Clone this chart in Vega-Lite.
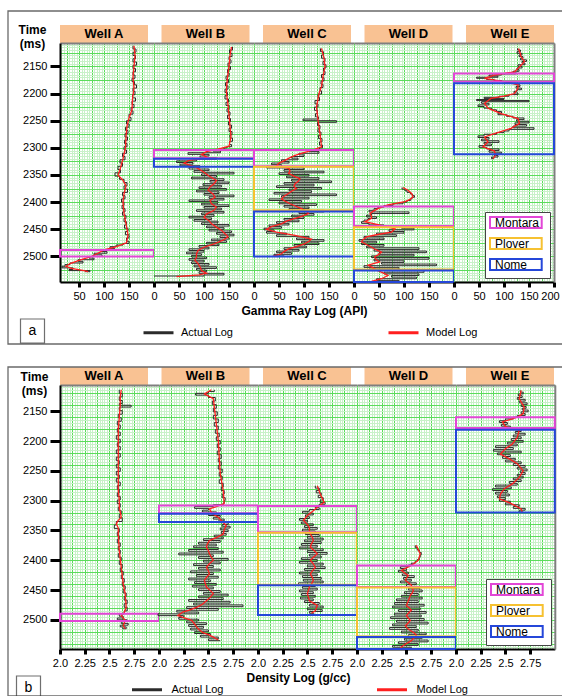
{
"$schema":"https://vega.github.io/schema/vega-lite/v6.json",
"background":"white",
"padding":{"left":7,"top":10,"right":0,"bottom":0},
"autosize":{"type":"pad"},
"config":{
 "view":{"stroke":null},
 "font":"Liberation Sans",
 "axis":{"labelFont":"Liberation Sans","labelFontSize":11,"labelColor":"#000","titleFont":"Liberation Sans","titleFontSize":12,"titleFontWeight":"bold","titleColor":"#000","domainColor":"#000","domainWidth":2,"tickColor":"#000","tickWidth":3,"gridWidth":1,"labelOverlap":false,"labelFlush":false,"labelBound":false},
 "axisX":{"tickSize":5,"labelPadding":3,"titlePadding":4},
 "axisY":{"tickSize":10,"labelPadding":3},
 "legend":{"labelFont":"Liberation Sans","labelColor":"#000","padding":0}
},
"datasets":{
"fa":[{"w":"A","fm":"Montara","top":2488,"base":2500},{"w":"B","fm":"Montara","top":2304,"base":2319},{"w":"B","fm":"Nome","top":2320,"base":2335},{"w":"C","fm":"Montara","top":2304,"base":2334},{"w":"C","fm":"Plover","top":2335,"base":2415},{"w":"C","fm":"Nome","top":2417,"base":2500},{"w":"D","fm":"Montara","top":2408,"base":2444},{"w":"D","fm":"Plover","top":2446,"base":2524},{"w":"D","fm":"Nome","top":2526,"base":2547},{"w":"E","fm":"Montara","top":2163,"base":2178},{"w":"E","fm":"Nome","top":2181,"base":2312}],
"fb":[{"w":"A","fm":"Montara","top":2490,"base":2502},{"w":"B","fm":"Montara","top":2308,"base":2321},{"w":"B","fm":"Nome","top":2322,"base":2336},{"w":"C","fm":"Montara","top":2309,"base":2353},{"w":"C","fm":"Plover","top":2354,"base":2441},{"w":"C","fm":"Nome","top":2442,"base":2492},{"w":"D","fm":"Montara","top":2409,"base":2445},{"w":"D","fm":"Plover","top":2446,"base":2528},{"w":"D","fm":"Nome","top":2529,"base":2549},{"w":"E","fm":"Montara","top":2160,"base":2178},{"w":"E","fm":"Nome","top":2181,"base":2320}],
"gr":[
{"w":"A","log":"Model","t":2112,"v":160},{"w":"A","log":"Model","t":2130,"v":162},{"w":"A","log":"Model","t":2150,"v":160},{"w":"A","log":"Model","t":2170,"v":158},{"w":"A","log":"Model","t":2190,"v":160},{"w":"A","log":"Model","t":2210,"v":157},{"w":"A","log":"Model","t":2230,"v":156},{"w":"A","log":"Model","t":2245,"v":150},{"w":"A","log":"Model","t":2260,"v":146},{"w":"A","log":"Model","t":2280,"v":144},{"w":"A","log":"Model","t":2300,"v":143},{"w":"A","log":"Model","t":2320,"v":138},{"w":"A","log":"Model","t":2340,"v":132},{"w":"A","log":"Model","t":2350,"v":128},{"w":"A","log":"Model","t":2360,"v":138},{"w":"A","log":"Model","t":2370,"v":144},{"w":"A","log":"Model","t":2385,"v":140},{"w":"A","log":"Model","t":2400,"v":138},{"w":"A","log":"Model","t":2420,"v":140},{"w":"A","log":"Model","t":2440,"v":144},{"w":"A","log":"Model","t":2460,"v":148},{"w":"A","log":"Model","t":2475,"v":145},{"w":"A","log":"Model","t":2482,"v":125},{"w":"A","log":"Model","t":2488,"v":100},{"w":"A","log":"Model","t":2494,"v":88},{"w":"A","log":"Model","t":2500,"v":75},{"w":"A","log":"Model","t":2507,"v":50},{"w":"A","log":"Model","t":2513,"v":32},{"w":"A","log":"Model","t":2518,"v":24},{"w":"A","log":"Model","t":2522,"v":35},{"w":"A","log":"Model","t":2526,"v":60},{"w":"A","log":"Model","t":2528,"v":68},
{"w":"A","log":"Actual","t":2112,"v":158},{"w":"A","log":"Actual","t":2118,"v":164},{"w":"A","log":"Actual","t":2124,"v":158},{"w":"A","log":"Actual","t":2130,"v":163},{"w":"A","log":"Actual","t":2136,"v":158},{"w":"A","log":"Actual","t":2142,"v":165},{"w":"A","log":"Actual","t":2148,"v":158},{"w":"A","log":"Actual","t":2154,"v":163},{"w":"A","log":"Actual","t":2160,"v":158},{"w":"A","log":"Actual","t":2166,"v":162},{"w":"A","log":"Actual","t":2172,"v":156},{"w":"A","log":"Actual","t":2178,"v":161},{"w":"A","log":"Actual","t":2184,"v":165},{"w":"A","log":"Actual","t":2190,"v":158},{"w":"A","log":"Actual","t":2196,"v":162},{"w":"A","log":"Actual","t":2202,"v":157},{"w":"A","log":"Actual","t":2208,"v":163},{"w":"A","log":"Actual","t":2214,"v":156},{"w":"A","log":"Actual","t":2220,"v":160},{"w":"A","log":"Actual","t":2226,"v":154},{"w":"A","log":"Actual","t":2232,"v":158},{"w":"A","log":"Actual","t":2238,"v":150},{"w":"A","log":"Actual","t":2244,"v":154},{"w":"A","log":"Actual","t":2250,"v":145},{"w":"A","log":"Actual","t":2256,"v":150},{"w":"A","log":"Actual","t":2262,"v":143},{"w":"A","log":"Actual","t":2268,"v":148},{"w":"A","log":"Actual","t":2274,"v":142},{"w":"A","log":"Actual","t":2280,"v":147},{"w":"A","log":"Actual","t":2286,"v":141},{"w":"A","log":"Actual","t":2292,"v":146},{"w":"A","log":"Actual","t":2298,"v":140},{"w":"A","log":"Actual","t":2304,"v":145},{"w":"A","log":"Actual","t":2310,"v":137},{"w":"A","log":"Actual","t":2316,"v":142},{"w":"A","log":"Actual","t":2322,"v":132},{"w":"A","log":"Actual","t":2328,"v":137},{"w":"A","log":"Actual","t":2334,"v":128},{"w":"A","log":"Actual","t":2340,"v":133},{"w":"A","log":"Actual","t":2346,"v":122},{"w":"A","log":"Actual","t":2352,"v":131},{"w":"A","log":"Actual","t":2358,"v":140},{"w":"A","log":"Actual","t":2364,"v":146},{"w":"A","log":"Actual","t":2370,"v":140},{"w":"A","log":"Actual","t":2376,"v":147},{"w":"A","log":"Actual","t":2382,"v":137},{"w":"A","log":"Actual","t":2388,"v":142},{"w":"A","log":"Actual","t":2394,"v":135},{"w":"A","log":"Actual","t":2400,"v":140},{"w":"A","log":"Actual","t":2406,"v":136},{"w":"A","log":"Actual","t":2412,"v":142},{"w":"A","log":"Actual","t":2418,"v":137},{"w":"A","log":"Actual","t":2424,"v":144},{"w":"A","log":"Actual","t":2430,"v":140},{"w":"A","log":"Actual","t":2436,"v":145},{"w":"A","log":"Actual","t":2442,"v":141},{"w":"A","log":"Actual","t":2448,"v":148},{"w":"A","log":"Actual","t":2454,"v":143},{"w":"A","log":"Actual","t":2460,"v":150},{"w":"A","log":"Actual","t":2466,"v":145},{"w":"A","log":"Actual","t":2472,"v":150},{"w":"A","log":"Actual","t":2476,"v":138},{"w":"A","log":"Actual","t":2479,"v":124},{"w":"A","log":"Actual","t":2482,"v":112},{"w":"A","log":"Actual","t":2485,"v":121},{"w":"A","log":"Actual","t":2488,"v":95},{"w":"A","log":"Actual","t":2491,"v":106},{"w":"A","log":"Actual","t":2494,"v":80},{"w":"A","log":"Actual","t":2497,"v":96},{"w":"A","log":"Actual","t":2500,"v":70},{"w":"A","log":"Actual","t":2503,"v":80},{"w":"A","log":"Actual","t":2506,"v":48},{"w":"A","log":"Actual","t":2509,"v":58},{"w":"A","log":"Actual","t":2512,"v":32},{"w":"A","log":"Actual","t":2515,"v":22},{"w":"A","log":"Actual","t":2518,"v":16},{"w":"A","log":"Actual","t":2521,"v":38},{"w":"A","log":"Actual","t":2524,"v":30},{"w":"A","log":"Actual","t":2526,"v":72},{"w":"A","log":"Actual","t":2528,"v":62},
{"w":"B","log":"Model","t":2114,"v":155},{"w":"B","log":"Model","t":2130,"v":152},{"w":"B","log":"Model","t":2150,"v":150},{"w":"B","log":"Model","t":2170,"v":147},{"w":"B","log":"Model","t":2190,"v":145},{"w":"B","log":"Model","t":2200,"v":145},{"w":"B","log":"Model","t":2220,"v":148},{"w":"B","log":"Model","t":2240,"v":150},{"w":"B","log":"Model","t":2260,"v":152},{"w":"B","log":"Model","t":2280,"v":154},{"w":"B","log":"Model","t":2297,"v":150},{"w":"B","log":"Model","t":2302,"v":130},{"w":"B","log":"Model","t":2307,"v":105},{"w":"B","log":"Model","t":2312,"v":95},{"w":"B","log":"Model","t":2318,"v":108},{"w":"B","log":"Model","t":2323,"v":70},{"w":"B","log":"Model","t":2328,"v":60},{"w":"B","log":"Model","t":2333,"v":75},{"w":"B","log":"Model","t":2338,"v":88},{"w":"B","log":"Model","t":2345,"v":100},{"w":"B","log":"Model","t":2352,"v":110},{"w":"B","log":"Model","t":2360,"v":125},{"w":"B","log":"Model","t":2366,"v":120},{"w":"B","log":"Model","t":2372,"v":112},{"w":"B","log":"Model","t":2378,"v":108},{"w":"B","log":"Model","t":2385,"v":118},{"w":"B","log":"Model","t":2391,"v":122},{"w":"B","log":"Model","t":2397,"v":112},{"w":"B","log":"Model","t":2403,"v":115},{"w":"B","log":"Model","t":2409,"v":125},{"w":"B","log":"Model","t":2415,"v":120},{"w":"B","log":"Model","t":2422,"v":105},{"w":"B","log":"Model","t":2428,"v":100},{"w":"B","log":"Model","t":2434,"v":110},{"w":"B","log":"Model","t":2440,"v":115},{"w":"B","log":"Model","t":2446,"v":125},{"w":"B","log":"Model","t":2452,"v":135},{"w":"B","log":"Model","t":2458,"v":142},{"w":"B","log":"Model","t":2464,"v":148},{"w":"B","log":"Model","t":2470,"v":138},{"w":"B","log":"Model","t":2477,"v":120},{"w":"B","log":"Model","t":2483,"v":100},{"w":"B","log":"Model","t":2489,"v":88},{"w":"B","log":"Model","t":2495,"v":85},{"w":"B","log":"Model","t":2501,"v":85},{"w":"B","log":"Model","t":2507,"v":82},{"w":"B","log":"Model","t":2513,"v":88},{"w":"B","log":"Model","t":2519,"v":92},{"w":"B","log":"Model","t":2526,"v":95},{"w":"B","log":"Model","t":2531,"v":105},{"w":"B","log":"Model","t":2534,"v":90},{"w":"B","log":"Model","t":2537,"v":45},
{"w":"B","log":"Actual","t":2114,"v":157},{"w":"B","log":"Actual","t":2120,"v":151},{"w":"B","log":"Actual","t":2126,"v":156},{"w":"B","log":"Actual","t":2132,"v":150},{"w":"B","log":"Actual","t":2138,"v":154},{"w":"B","log":"Actual","t":2144,"v":148},{"w":"B","log":"Actual","t":2150,"v":153},{"w":"B","log":"Actual","t":2156,"v":147},{"w":"B","log":"Actual","t":2162,"v":150},{"w":"B","log":"Actual","t":2168,"v":144},{"w":"B","log":"Actual","t":2174,"v":149},{"w":"B","log":"Actual","t":2180,"v":143},{"w":"B","log":"Actual","t":2186,"v":148},{"w":"B","log":"Actual","t":2192,"v":142},{"w":"B","log":"Actual","t":2198,"v":147},{"w":"B","log":"Actual","t":2204,"v":142},{"w":"B","log":"Actual","t":2210,"v":149},{"w":"B","log":"Actual","t":2216,"v":144},{"w":"B","log":"Actual","t":2222,"v":150},{"w":"B","log":"Actual","t":2228,"v":146},{"w":"B","log":"Actual","t":2234,"v":152},{"w":"B","log":"Actual","t":2240,"v":147},{"w":"B","log":"Actual","t":2246,"v":153},{"w":"B","log":"Actual","t":2252,"v":149},{"w":"B","log":"Actual","t":2258,"v":155},{"w":"B","log":"Actual","t":2264,"v":150},{"w":"B","log":"Actual","t":2270,"v":156},{"w":"B","log":"Actual","t":2276,"v":152},{"w":"B","log":"Actual","t":2282,"v":157},{"w":"B","log":"Actual","t":2288,"v":151},{"w":"B","log":"Actual","t":2294,"v":155},{"w":"B","log":"Actual","t":2298,"v":146},{"w":"B","log":"Actual","t":2300,"v":140},{"w":"B","log":"Actual","t":2303,"v":118},{"w":"B","log":"Actual","t":2306,"v":133},{"w":"B","log":"Actual","t":2309,"v":68},{"w":"B","log":"Actual","t":2312,"v":110},{"w":"B","log":"Actual","t":2315,"v":92},{"w":"B","log":"Actual","t":2318,"v":125},{"w":"B","log":"Actual","t":2321,"v":85},{"w":"B","log":"Actual","t":2324,"v":45},{"w":"B","log":"Actual","t":2327,"v":78},{"w":"B","log":"Actual","t":2330,"v":52},{"w":"B","log":"Actual","t":2333,"v":92},{"w":"B","log":"Actual","t":2336,"v":70},{"w":"B","log":"Actual","t":2339,"v":110},{"w":"B","log":"Actual","t":2342,"v":80},{"w":"B","log":"Actual","t":2345,"v":160},{"w":"B","log":"Actual","t":2348,"v":95},{"w":"B","log":"Actual","t":2351,"v":125},{"w":"B","log":"Actual","t":2354,"v":75},{"w":"B","log":"Actual","t":2357,"v":140},{"w":"B","log":"Actual","t":2360,"v":112},{"w":"B","log":"Actual","t":2363,"v":150},{"w":"B","log":"Actual","t":2366,"v":98},{"w":"B","log":"Actual","t":2369,"v":135},{"w":"B","log":"Actual","t":2372,"v":90},{"w":"B","log":"Actual","t":2375,"v":145},{"w":"B","log":"Actual","t":2378,"v":85},{"w":"B","log":"Actual","t":2381,"v":130},{"w":"B","log":"Actual","t":2384,"v":100},{"w":"B","log":"Actual","t":2387,"v":160},{"w":"B","log":"Actual","t":2390,"v":110},{"w":"B","log":"Actual","t":2393,"v":140},{"w":"B","log":"Actual","t":2396,"v":70},{"w":"B","log":"Actual","t":2399,"v":128},{"w":"B","log":"Actual","t":2402,"v":95},{"w":"B","log":"Actual","t":2405,"v":150},{"w":"B","log":"Actual","t":2408,"v":100},{"w":"B","log":"Actual","t":2411,"v":135},{"w":"B","log":"Actual","t":2414,"v":85},{"w":"B","log":"Actual","t":2417,"v":140},{"w":"B","log":"Actual","t":2420,"v":95},{"w":"B","log":"Actual","t":2423,"v":120},{"w":"B","log":"Actual","t":2426,"v":70},{"w":"B","log":"Actual","t":2429,"v":115},{"w":"B","log":"Actual","t":2432,"v":80},{"w":"B","log":"Actual","t":2435,"v":128},{"w":"B","log":"Actual","t":2438,"v":95},{"w":"B","log":"Actual","t":2441,"v":150},{"w":"B","log":"Actual","t":2444,"v":105},{"w":"B","log":"Actual","t":2447,"v":140},{"w":"B","log":"Actual","t":2450,"v":110},{"w":"B","log":"Actual","t":2453,"v":155},{"w":"B","log":"Actual","t":2456,"v":125},{"w":"B","log":"Actual","t":2459,"v":160},{"w":"B","log":"Actual","t":2462,"v":132},{"w":"B","log":"Actual","t":2465,"v":150},{"w":"B","log":"Actual","t":2468,"v":115},{"w":"B","log":"Actual","t":2471,"v":145},{"w":"B","log":"Actual","t":2474,"v":105},{"w":"B","log":"Actual","t":2477,"v":130},{"w":"B","log":"Actual","t":2480,"v":90},{"w":"B","log":"Actual","t":2483,"v":110},{"w":"B","log":"Actual","t":2486,"v":70},{"w":"B","log":"Actual","t":2489,"v":100},{"w":"B","log":"Actual","t":2492,"v":65},{"w":"B","log":"Actual","t":2495,"v":95},{"w":"B","log":"Actual","t":2498,"v":75},{"w":"B","log":"Actual","t":2501,"v":105},{"w":"B","log":"Actual","t":2504,"v":70},{"w":"B","log":"Actual","t":2507,"v":100},{"w":"B","log":"Actual","t":2510,"v":75},{"w":"B","log":"Actual","t":2513,"v":110},{"w":"B","log":"Actual","t":2516,"v":80},{"w":"B","log":"Actual","t":2519,"v":125},{"w":"B","log":"Actual","t":2522,"v":85},{"w":"B","log":"Actual","t":2525,"v":105},{"w":"B","log":"Actual","t":2528,"v":90},{"w":"B","log":"Actual","t":2531,"v":140},{"w":"B","log":"Actual","t":2534,"v":100},{"w":"B","log":"Actual","t":2536,"v":0},
{"w":"C","log":"Model","t":2117,"v":135},{"w":"C","log":"Model","t":2135,"v":140},{"w":"C","log":"Model","t":2150,"v":142},{"w":"C","log":"Model","t":2169,"v":138},{"w":"C","log":"Model","t":2187,"v":135},{"w":"C","log":"Model","t":2200,"v":130},{"w":"C","log":"Model","t":2225,"v":125},{"w":"C","log":"Model","t":2249,"v":128},{"w":"C","log":"Model","t":2274,"v":132},{"w":"C","log":"Model","t":2298,"v":135},{"w":"C","log":"Model","t":2304,"v":118},{"w":"C","log":"Model","t":2309,"v":100},{"w":"C","log":"Model","t":2314,"v":82},{"w":"C","log":"Model","t":2319,"v":70},{"w":"C","log":"Model","t":2323,"v":62},{"w":"C","log":"Model","t":2328,"v":50},{"w":"C","log":"Model","t":2333,"v":45},{"w":"C","log":"Model","t":2338,"v":70},{"w":"C","log":"Model","t":2343,"v":72},{"w":"C","log":"Model","t":2347,"v":69},{"w":"C","log":"Model","t":2352,"v":80},{"w":"C","log":"Model","t":2357,"v":92},{"w":"C","log":"Model","t":2362,"v":88},{"w":"C","log":"Model","t":2366,"v":82},{"w":"C","log":"Model","t":2371,"v":80},{"w":"C","log":"Model","t":2375,"v":85},{"w":"C","log":"Model","t":2380,"v":75},{"w":"C","log":"Model","t":2384,"v":69},{"w":"C","log":"Model","t":2389,"v":60},{"w":"C","log":"Model","t":2394,"v":55},{"w":"C","log":"Model","t":2398,"v":62},{"w":"C","log":"Model","t":2403,"v":72},{"w":"C","log":"Model","t":2408,"v":85},{"w":"C","log":"Model","t":2412,"v":95},{"w":"C","log":"Model","t":2417,"v":105},{"w":"C","log":"Model","t":2421,"v":109},{"w":"C","log":"Model","t":2426,"v":95},{"w":"C","log":"Model","t":2430,"v":82},{"w":"C","log":"Model","t":2435,"v":65},{"w":"C","log":"Model","t":2440,"v":55},{"w":"C","log":"Model","t":2445,"v":35},{"w":"C","log":"Model","t":2450,"v":25},{"w":"C","log":"Model","t":2455,"v":45},{"w":"C","log":"Model","t":2461,"v":82},{"w":"C","log":"Model","t":2468,"v":115},{"w":"C","log":"Model","t":2472,"v":110},{"w":"C","log":"Model","t":2477,"v":101},{"w":"C","log":"Model","t":2482,"v":85},{"w":"C","log":"Model","t":2486,"v":69},{"w":"C","log":"Model","t":2491,"v":60},{"w":"C","log":"Model","t":2495,"v":55},{"w":"C","log":"Model","t":2500,"v":38},
{"w":"C","log":"Actual","t":2117,"v":133},{"w":"C","log":"Actual","t":2123,"v":139},{"w":"C","log":"Actual","t":2129,"v":135},{"w":"C","log":"Actual","t":2135,"v":142},{"w":"C","log":"Actual","t":2141,"v":138},{"w":"C","log":"Actual","t":2147,"v":144},{"w":"C","log":"Actual","t":2153,"v":139},{"w":"C","log":"Actual","t":2159,"v":142},{"w":"C","log":"Actual","t":2165,"v":135},{"w":"C","log":"Actual","t":2171,"v":140},{"w":"C","log":"Actual","t":2177,"v":134},{"w":"C","log":"Actual","t":2183,"v":138},{"w":"C","log":"Actual","t":2189,"v":132},{"w":"C","log":"Actual","t":2195,"v":135},{"w":"C","log":"Actual","t":2201,"v":128},{"w":"C","log":"Actual","t":2207,"v":131},{"w":"C","log":"Actual","t":2213,"v":122},{"w":"C","log":"Actual","t":2219,"v":128},{"w":"C","log":"Actual","t":2225,"v":121},{"w":"C","log":"Actual","t":2231,"v":127},{"w":"C","log":"Actual","t":2237,"v":123},{"w":"C","log":"Actual","t":2243,"v":129},{"w":"C","log":"Actual","t":2247,"v":98},{"w":"C","log":"Actual","t":2250,"v":165},{"w":"C","log":"Actual","t":2253,"v":127},{"w":"C","log":"Actual","t":2259,"v":132},{"w":"C","log":"Actual","t":2265,"v":128},{"w":"C","log":"Actual","t":2271,"v":134},{"w":"C","log":"Actual","t":2277,"v":129},{"w":"C","log":"Actual","t":2283,"v":136},{"w":"C","log":"Actual","t":2289,"v":131},{"w":"C","log":"Actual","t":2295,"v":137},{"w":"C","log":"Actual","t":2300,"v":131},{"w":"C","log":"Actual","t":2304,"v":110},{"w":"C","log":"Actual","t":2307,"v":130},{"w":"C","log":"Actual","t":2310,"v":90},{"w":"C","log":"Actual","t":2313,"v":100},{"w":"C","log":"Actual","t":2316,"v":75},{"w":"C","log":"Actual","t":2319,"v":88},{"w":"C","log":"Actual","t":2322,"v":55},{"w":"C","log":"Actual","t":2325,"v":70},{"w":"C","log":"Actual","t":2328,"v":35},{"w":"C","log":"Actual","t":2331,"v":55},{"w":"C","log":"Actual","t":2334,"v":25},{"w":"C","log":"Actual","t":2337,"v":100},{"w":"C","log":"Actual","t":2340,"v":60},{"w":"C","log":"Actual","t":2343,"v":140},{"w":"C","log":"Actual","t":2346,"v":50},{"w":"C","log":"Actual","t":2349,"v":110},{"w":"C","log":"Actual","t":2352,"v":65},{"w":"C","log":"Actual","t":2355,"v":130},{"w":"C","log":"Actual","t":2358,"v":75},{"w":"C","log":"Actual","t":2361,"v":155},{"w":"C","log":"Actual","t":2364,"v":60},{"w":"C","log":"Actual","t":2367,"v":120},{"w":"C","log":"Actual","t":2370,"v":45},{"w":"C","log":"Actual","t":2373,"v":135},{"w":"C","log":"Actual","t":2376,"v":70},{"w":"C","log":"Actual","t":2379,"v":115},{"w":"C","log":"Actual","t":2382,"v":40},{"w":"C","log":"Actual","t":2385,"v":165},{"w":"C","log":"Actual","t":2388,"v":55},{"w":"C","log":"Actual","t":2391,"v":110},{"w":"C","log":"Actual","t":2394,"v":30},{"w":"C","log":"Actual","t":2397,"v":95},{"w":"C","log":"Actual","t":2400,"v":50},{"w":"C","log":"Actual","t":2403,"v":125},{"w":"C","log":"Actual","t":2406,"v":60},{"w":"C","log":"Actual","t":2409,"v":110},{"w":"C","log":"Actual","t":2412,"v":70},{"w":"C","log":"Actual","t":2415,"v":140},{"w":"C","log":"Actual","t":2418,"v":90},{"w":"C","log":"Actual","t":2421,"v":120},{"w":"C","log":"Actual","t":2424,"v":75},{"w":"C","log":"Actual","t":2427,"v":100},{"w":"C","log":"Actual","t":2430,"v":60},{"w":"C","log":"Actual","t":2433,"v":90},{"w":"C","log":"Actual","t":2436,"v":45},{"w":"C","log":"Actual","t":2439,"v":70},{"w":"C","log":"Actual","t":2442,"v":30},{"w":"C","log":"Actual","t":2445,"v":55},{"w":"C","log":"Actual","t":2448,"v":20},{"w":"C","log":"Actual","t":2451,"v":40},{"w":"C","log":"Actual","t":2454,"v":25},{"w":"C","log":"Actual","t":2457,"v":65},{"w":"C","log":"Actual","t":2460,"v":45},{"w":"C","log":"Actual","t":2463,"v":110},{"w":"C","log":"Actual","t":2466,"v":85},{"w":"C","log":"Actual","t":2469,"v":140},{"w":"C","log":"Actual","t":2472,"v":95},{"w":"C","log":"Actual","t":2475,"v":130},{"w":"C","log":"Actual","t":2478,"v":80},{"w":"C","log":"Actual","t":2481,"v":105},{"w":"C","log":"Actual","t":2484,"v":60},{"w":"C","log":"Actual","t":2487,"v":90},{"w":"C","log":"Actual","t":2490,"v":45},{"w":"C","log":"Actual","t":2493,"v":75},{"w":"C","log":"Actual","t":2496,"v":40},{"w":"C","log":"Actual","t":2499,"v":60},{"w":"C","log":"Actual","t":2500,"v":30},
{"w":"D","log":"Model","t":2373,"v":98},{"w":"D","log":"Model","t":2378,"v":108},{"w":"D","log":"Model","t":2384,"v":115},{"w":"D","log":"Model","t":2390,"v":118},{"w":"D","log":"Model","t":2395,"v":112},{"w":"D","log":"Model","t":2399,"v":102},{"w":"D","log":"Model","t":2405,"v":68},{"w":"D","log":"Model","t":2412,"v":48},{"w":"D","log":"Model","t":2417,"v":38},{"w":"D","log":"Model","t":2421,"v":32},{"w":"D","log":"Model","t":2426,"v":35},{"w":"D","log":"Model","t":2430,"v":35},{"w":"D","log":"Model","t":2436,"v":22},{"w":"D","log":"Model","t":2442,"v":50},{"w":"D","log":"Model","t":2449,"v":82},{"w":"D","log":"Model","t":2455,"v":75},{"w":"D","log":"Model","t":2460,"v":45},{"w":"D","log":"Model","t":2464,"v":25},{"w":"D","log":"Model","t":2469,"v":18},{"w":"D","log":"Model","t":2473,"v":15},{"w":"D","log":"Model","t":2478,"v":25},{"w":"D","log":"Model","t":2483,"v":35},{"w":"D","log":"Model","t":2488,"v":45},{"w":"D","log":"Model","t":2492,"v":55},{"w":"D","log":"Model","t":2497,"v":48},{"w":"D","log":"Model","t":2501,"v":41},{"w":"D","log":"Model","t":2506,"v":45},{"w":"D","log":"Model","t":2510,"v":51},{"w":"D","log":"Model","t":2516,"v":28},{"w":"D","log":"Model","t":2521,"v":38},{"w":"D","log":"Model","t":2526,"v":48},{"w":"D","log":"Model","t":2531,"v":60},{"w":"D","log":"Model","t":2535,"v":68},{"w":"D","log":"Model","t":2541,"v":55},{"w":"D","log":"Model","t":2546,"v":35},
{"w":"D","log":"Actual","t":2373,"v":96},{"w":"D","log":"Actual","t":2376,"v":102},{"w":"D","log":"Actual","t":2379,"v":106},{"w":"D","log":"Actual","t":2382,"v":113},{"w":"D","log":"Actual","t":2385,"v":117},{"w":"D","log":"Actual","t":2388,"v":121},{"w":"D","log":"Actual","t":2391,"v":116},{"w":"D","log":"Actual","t":2394,"v":113},{"w":"D","log":"Actual","t":2397,"v":106},{"w":"D","log":"Actual","t":2400,"v":98},{"w":"D","log":"Actual","t":2403,"v":78},{"w":"D","log":"Actual","t":2406,"v":60},{"w":"D","log":"Actual","t":2409,"v":48},{"w":"D","log":"Actual","t":2412,"v":40},{"w":"D","log":"Actual","t":2415,"v":30},{"w":"D","log":"Actual","t":2418,"v":110},{"w":"D","log":"Actual","t":2421,"v":35},{"w":"D","log":"Actual","t":2424,"v":25},{"w":"D","log":"Actual","t":2427,"v":45},{"w":"D","log":"Actual","t":2430,"v":28},{"w":"D","log":"Actual","t":2433,"v":20},{"w":"D","log":"Actual","t":2436,"v":15},{"w":"D","log":"Actual","t":2439,"v":30},{"w":"D","log":"Actual","t":2442,"v":60},{"w":"D","log":"Actual","t":2445,"v":95},{"w":"D","log":"Actual","t":2448,"v":120},{"w":"D","log":"Actual","t":2451,"v":70},{"w":"D","log":"Actual","t":2454,"v":100},{"w":"D","log":"Actual","t":2457,"v":45},{"w":"D","log":"Actual","t":2460,"v":85},{"w":"D","log":"Actual","t":2463,"v":20},{"w":"D","log":"Actual","t":2466,"v":60},{"w":"D","log":"Actual","t":2469,"v":10},{"w":"D","log":"Actual","t":2472,"v":45},{"w":"D","log":"Actual","t":2475,"v":15},{"w":"D","log":"Actual","t":2478,"v":60},{"w":"D","log":"Actual","t":2481,"v":25},{"w":"D","log":"Actual","t":2484,"v":130},{"w":"D","log":"Actual","t":2487,"v":40},{"w":"D","log":"Actual","t":2490,"v":145},{"w":"D","log":"Actual","t":2493,"v":50},{"w":"D","log":"Actual","t":2496,"v":120},{"w":"D","log":"Actual","t":2499,"v":35},{"w":"D","log":"Actual","t":2502,"v":150},{"w":"D","log":"Actual","t":2505,"v":40},{"w":"D","log":"Actual","t":2508,"v":100},{"w":"D","log":"Actual","t":2511,"v":55},{"w":"D","log":"Actual","t":2514,"v":165},{"w":"D","log":"Actual","t":2517,"v":20},{"w":"D","log":"Actual","t":2520,"v":90},{"w":"D","log":"Actual","t":2523,"v":30},{"w":"D","log":"Actual","t":2526,"v":140},{"w":"D","log":"Actual","t":2529,"v":60},{"w":"D","log":"Actual","t":2532,"v":130},{"w":"D","log":"Actual","t":2535,"v":75},{"w":"D","log":"Actual","t":2538,"v":125},{"w":"D","log":"Actual","t":2541,"v":45},{"w":"D","log":"Actual","t":2544,"v":90},{"w":"D","log":"Actual","t":2546,"v":30},
{"w":"E","log":"Model","t":2117,"v":129},{"w":"E","log":"Model","t":2125,"v":132},{"w":"E","log":"Model","t":2132,"v":134},{"w":"E","log":"Model","t":2141,"v":141},{"w":"E","log":"Model","t":2151,"v":131},{"w":"E","log":"Model","t":2160,"v":121},{"w":"E","log":"Model","t":2166,"v":81},{"w":"E","log":"Model","t":2172,"v":61},{"w":"E","log":"Model","t":2178,"v":100},{"w":"E","log":"Model","t":2184,"v":128},{"w":"E","log":"Model","t":2190,"v":128},{"w":"E","log":"Model","t":2200,"v":121},{"w":"E","log":"Model","t":2205,"v":100},{"w":"E","log":"Model","t":2209,"v":74},{"w":"E","log":"Model","t":2218,"v":61},{"w":"E","log":"Model","t":2227,"v":68},{"w":"E","log":"Model","t":2237,"v":94},{"w":"E","log":"Model","t":2246,"v":128},{"w":"E","log":"Model","t":2255,"v":131},{"w":"E","log":"Model","t":2264,"v":114},{"w":"E","log":"Model","t":2274,"v":81},{"w":"E","log":"Model","t":2280,"v":61},{"w":"E","log":"Model","t":2289,"v":68},{"w":"E","log":"Model","t":2298,"v":58},{"w":"E","log":"Model","t":2306,"v":81},{"w":"E","log":"Model","t":2314,"v":83},{"w":"E","log":"Model","t":2320,"v":78},
{"w":"E","log":"Actual","t":2117,"v":127},{"w":"E","log":"Actual","t":2120,"v":133},{"w":"E","log":"Actual","t":2123,"v":126},{"w":"E","log":"Actual","t":2126,"v":136},{"w":"E","log":"Actual","t":2129,"v":130},{"w":"E","log":"Actual","t":2132,"v":138},{"w":"E","log":"Actual","t":2135,"v":133},{"w":"E","log":"Actual","t":2138,"v":145},{"w":"E","log":"Actual","t":2141,"v":136},{"w":"E","log":"Actual","t":2144,"v":142},{"w":"E","log":"Actual","t":2147,"v":128},{"w":"E","log":"Actual","t":2150,"v":136},{"w":"E","log":"Actual","t":2153,"v":126},{"w":"E","log":"Actual","t":2156,"v":130},{"w":"E","log":"Actual","t":2159,"v":118},{"w":"E","log":"Actual","t":2162,"v":125},{"w":"E","log":"Actual","t":2164,"v":95},{"w":"E","log":"Actual","t":2166,"v":70},{"w":"E","log":"Actual","t":2168,"v":88},{"w":"E","log":"Actual","t":2170,"v":45},{"w":"E","log":"Actual","t":2172,"v":65},{"w":"E","log":"Actual","t":2174,"v":80},{"w":"E","log":"Actual","t":2176,"v":95},{"w":"E","log":"Actual","t":2178,"v":110},{"w":"E","log":"Actual","t":2181,"v":125},{"w":"E","log":"Actual","t":2184,"v":132},{"w":"E","log":"Actual","t":2187,"v":124},{"w":"E","log":"Actual","t":2190,"v":135},{"w":"E","log":"Actual","t":2193,"v":126},{"w":"E","log":"Actual","t":2196,"v":120},{"w":"E","log":"Actual","t":2199,"v":128},{"w":"E","log":"Actual","t":2202,"v":110},{"w":"E","log":"Actual","t":2205,"v":90},{"w":"E","log":"Actual","t":2207,"v":60},{"w":"E","log":"Actual","t":2209,"v":100},{"w":"E","log":"Actual","t":2211,"v":45},{"w":"E","log":"Actual","t":2213,"v":150},{"w":"E","log":"Actual","t":2215,"v":55},{"w":"E","log":"Actual","t":2218,"v":70},{"w":"E","log":"Actual","t":2221,"v":48},{"w":"E","log":"Actual","t":2224,"v":60},{"w":"E","log":"Actual","t":2227,"v":75},{"w":"E","log":"Actual","t":2230,"v":85},{"w":"E","log":"Actual","t":2233,"v":95},{"w":"E","log":"Actual","t":2236,"v":88},{"w":"E","log":"Actual","t":2239,"v":105},{"w":"E","log":"Actual","t":2242,"v":118},{"w":"E","log":"Actual","t":2245,"v":140},{"w":"E","log":"Actual","t":2248,"v":125},{"w":"E","log":"Actual","t":2251,"v":150},{"w":"E","log":"Actual","t":2254,"v":122},{"w":"E","log":"Actual","t":2257,"v":145},{"w":"E","log":"Actual","t":2260,"v":118},{"w":"E","log":"Actual","t":2263,"v":160},{"w":"E","log":"Actual","t":2266,"v":110},{"w":"E","log":"Actual","t":2269,"v":100},{"w":"E","log":"Actual","t":2272,"v":85},{"w":"E","log":"Actual","t":2275,"v":60},{"w":"E","log":"Actual","t":2278,"v":48},{"w":"E","log":"Actual","t":2281,"v":70},{"w":"E","log":"Actual","t":2284,"v":55},{"w":"E","log":"Actual","t":2287,"v":90},{"w":"E","log":"Actual","t":2290,"v":60},{"w":"E","log":"Actual","t":2293,"v":75},{"w":"E","log":"Actual","t":2296,"v":50},{"w":"E","log":"Actual","t":2299,"v":65},{"w":"E","log":"Actual","t":2302,"v":90},{"w":"E","log":"Actual","t":2305,"v":70},{"w":"E","log":"Actual","t":2308,"v":95},{"w":"E","log":"Actual","t":2311,"v":80},{"w":"E","log":"Actual","t":2314,"v":88},{"w":"E","log":"Actual","t":2317,"v":75},{"w":"E","log":"Actual","t":2320,"v":80}
],
"den":[
{"w":"A","log":"Model","t":2114,"v":2.62},{"w":"A","log":"Model","t":2125,"v":2.61},{"w":"A","log":"Model","t":2140,"v":2.61},{"w":"A","log":"Model","t":2160,"v":2.6},{"w":"A","log":"Model","t":2180,"v":2.59},{"w":"A","log":"Model","t":2200,"v":2.59},{"w":"A","log":"Model","t":2227,"v":2.59},{"w":"A","log":"Model","t":2255,"v":2.59},{"w":"A","log":"Model","t":2283,"v":2.59},{"w":"A","log":"Model","t":2300,"v":2.6},{"w":"A","log":"Model","t":2311,"v":2.6},{"w":"A","log":"Model","t":2328,"v":2.62},{"w":"A","log":"Model","t":2333,"v":2.59},{"w":"A","log":"Model","t":2339,"v":2.57},{"w":"A","log":"Model","t":2346,"v":2.59},{"w":"A","log":"Model","t":2356,"v":2.59},{"w":"A","log":"Model","t":2384,"v":2.6},{"w":"A","log":"Model","t":2412,"v":2.62},{"w":"A","log":"Model","t":2440,"v":2.64},{"w":"A","log":"Model","t":2456,"v":2.66},{"w":"A","log":"Model","t":2479,"v":2.67},{"w":"A","log":"Model","t":2488,"v":2.65},{"w":"A","log":"Model","t":2493,"v":2.62},{"w":"A","log":"Model","t":2501,"v":2.66},{"w":"A","log":"Model","t":2510,"v":2.64},{"w":"A","log":"Model","t":2515,"v":2.66},
{"w":"A","log":"Actual","t":2114,"v":2.6},{"w":"A","log":"Actual","t":2120,"v":2.63},{"w":"A","log":"Actual","t":2126,"v":2.6},{"w":"A","log":"Actual","t":2132,"v":2.63},{"w":"A","log":"Actual","t":2137,"v":2.6},{"w":"A","log":"Actual","t":2140,"v":2.72},{"w":"A","log":"Actual","t":2143,"v":2.6},{"w":"A","log":"Actual","t":2149,"v":2.63},{"w":"A","log":"Actual","t":2155,"v":2.59},{"w":"A","log":"Actual","t":2161,"v":2.62},{"w":"A","log":"Actual","t":2167,"v":2.58},{"w":"A","log":"Actual","t":2173,"v":2.61},{"w":"A","log":"Actual","t":2179,"v":2.58},{"w":"A","log":"Actual","t":2185,"v":2.61},{"w":"A","log":"Actual","t":2191,"v":2.57},{"w":"A","log":"Actual","t":2197,"v":2.61},{"w":"A","log":"Actual","t":2203,"v":2.58},{"w":"A","log":"Actual","t":2209,"v":2.61},{"w":"A","log":"Actual","t":2215,"v":2.57},{"w":"A","log":"Actual","t":2221,"v":2.61},{"w":"A","log":"Actual","t":2227,"v":2.57},{"w":"A","log":"Actual","t":2233,"v":2.6},{"w":"A","log":"Actual","t":2239,"v":2.57},{"w":"A","log":"Actual","t":2245,"v":2.61},{"w":"A","log":"Actual","t":2251,"v":2.57},{"w":"A","log":"Actual","t":2257,"v":2.6},{"w":"A","log":"Actual","t":2263,"v":2.57},{"w":"A","log":"Actual","t":2269,"v":2.61},{"w":"A","log":"Actual","t":2275,"v":2.58},{"w":"A","log":"Actual","t":2281,"v":2.6},{"w":"A","log":"Actual","t":2287,"v":2.58},{"w":"A","log":"Actual","t":2293,"v":2.61},{"w":"A","log":"Actual","t":2299,"v":2.58},{"w":"A","log":"Actual","t":2305,"v":2.61},{"w":"A","log":"Actual","t":2311,"v":2.59},{"w":"A","log":"Actual","t":2317,"v":2.62},{"w":"A","log":"Actual","t":2323,"v":2.6},{"w":"A","log":"Actual","t":2329,"v":2.63},{"w":"A","log":"Actual","t":2335,"v":2.57},{"w":"A","log":"Actual","t":2341,"v":2.55},{"w":"A","log":"Actual","t":2347,"v":2.6},{"w":"A","log":"Actual","t":2353,"v":2.58},{"w":"A","log":"Actual","t":2359,"v":2.6},{"w":"A","log":"Actual","t":2365,"v":2.58},{"w":"A","log":"Actual","t":2371,"v":2.61},{"w":"A","log":"Actual","t":2377,"v":2.59},{"w":"A","log":"Actual","t":2383,"v":2.61},{"w":"A","log":"Actual","t":2389,"v":2.59},{"w":"A","log":"Actual","t":2395,"v":2.62},{"w":"A","log":"Actual","t":2401,"v":2.6},{"w":"A","log":"Actual","t":2407,"v":2.63},{"w":"A","log":"Actual","t":2413,"v":2.61},{"w":"A","log":"Actual","t":2419,"v":2.64},{"w":"A","log":"Actual","t":2425,"v":2.62},{"w":"A","log":"Actual","t":2431,"v":2.65},{"w":"A","log":"Actual","t":2437,"v":2.63},{"w":"A","log":"Actual","t":2443,"v":2.66},{"w":"A","log":"Actual","t":2449,"v":2.64},{"w":"A","log":"Actual","t":2455,"v":2.67},{"w":"A","log":"Actual","t":2461,"v":2.65},{"w":"A","log":"Actual","t":2467,"v":2.68},{"w":"A","log":"Actual","t":2473,"v":2.65},{"w":"A","log":"Actual","t":2479,"v":2.68},{"w":"A","log":"Actual","t":2485,"v":2.65},{"w":"A","log":"Actual","t":2490,"v":2.6},{"w":"A","log":"Actual","t":2494,"v":2.64},{"w":"A","log":"Actual","t":2497,"v":2.58},{"w":"A","log":"Actual","t":2500,"v":2.68},{"w":"A","log":"Actual","t":2503,"v":2.62},{"w":"A","log":"Actual","t":2506,"v":2.69},{"w":"A","log":"Actual","t":2509,"v":2.61},{"w":"A","log":"Actual","t":2512,"v":2.67},{"w":"A","log":"Actual","t":2515,"v":2.63},
{"w":"B","log":"Model","t":2114,"v":2.53},{"w":"B","log":"Model","t":2121,"v":2.46},{"w":"B","log":"Model","t":2129,"v":2.55},{"w":"B","log":"Model","t":2143,"v":2.56},{"w":"B","log":"Model","t":2171,"v":2.58},{"w":"B","log":"Model","t":2199,"v":2.6},{"w":"B","log":"Model","t":2227,"v":2.61},{"w":"B","log":"Model","t":2255,"v":2.62},{"w":"B","log":"Model","t":2283,"v":2.65},{"w":"B","log":"Model","t":2305,"v":2.66},{"w":"B","log":"Model","t":2310,"v":2.58},{"w":"B","log":"Model","t":2314,"v":2.51},{"w":"B","log":"Model","t":2322,"v":2.54},{"w":"B","log":"Model","t":2328,"v":2.6},{"w":"B","log":"Model","t":2335,"v":2.64},{"w":"B","log":"Model","t":2342,"v":2.68},{"w":"B","log":"Model","t":2349,"v":2.66},{"w":"B","log":"Model","t":2356,"v":2.65},{"w":"B","log":"Model","t":2362,"v":2.58},{"w":"B","log":"Model","t":2367,"v":2.51},{"w":"B","log":"Model","t":2373,"v":2.49},{"w":"B","log":"Model","t":2378,"v":2.48},{"w":"B","log":"Model","t":2384,"v":2.5},{"w":"B","log":"Model","t":2389,"v":2.51},{"w":"B","log":"Model","t":2395,"v":2.53},{"w":"B","log":"Model","t":2400,"v":2.55},{"w":"B","log":"Model","t":2406,"v":2.51},{"w":"B","log":"Model","t":2412,"v":2.48},{"w":"B","log":"Model","t":2418,"v":2.5},{"w":"B","log":"Model","t":2423,"v":2.51},{"w":"B","log":"Model","t":2429,"v":2.48},{"w":"B","log":"Model","t":2434,"v":2.46},{"w":"B","log":"Model","t":2440,"v":2.47},{"w":"B","log":"Model","t":2445,"v":2.48},{"w":"B","log":"Model","t":2451,"v":2.52},{"w":"B","log":"Model","t":2456,"v":2.55},{"w":"B","log":"Model","t":2462,"v":2.52},{"w":"B","log":"Model","t":2468,"v":2.48},{"w":"B","log":"Model","t":2474,"v":2.44},{"w":"B","log":"Model","t":2479,"v":2.38},{"w":"B","log":"Model","t":2484,"v":2.3},{"w":"B","log":"Model","t":2487,"v":2.24},{"w":"B","log":"Model","t":2493,"v":2.19},{"w":"B","log":"Model","t":2501,"v":2.33},{"w":"B","log":"Model","t":2507,"v":2.36},{"w":"B","log":"Model","t":2512,"v":2.38},{"w":"B","log":"Model","t":2517,"v":2.41},{"w":"B","log":"Model","t":2521,"v":2.44},{"w":"B","log":"Model","t":2525,"v":2.5},{"w":"B","log":"Model","t":2529,"v":2.55},{"w":"B","log":"Model","t":2534,"v":2.6},
{"w":"B","log":"Actual","t":2114,"v":2.56},{"w":"B","log":"Actual","t":2117,"v":2.5},{"w":"B","log":"Actual","t":2120,"v":2.37},{"w":"B","log":"Actual","t":2123,"v":2.5},{"w":"B","log":"Actual","t":2127,"v":2.57},{"w":"B","log":"Actual","t":2133,"v":2.54},{"w":"B","log":"Actual","t":2139,"v":2.58},{"w":"B","log":"Actual","t":2145,"v":2.55},{"w":"B","log":"Actual","t":2151,"v":2.59},{"w":"B","log":"Actual","t":2157,"v":2.55},{"w":"B","log":"Actual","t":2163,"v":2.6},{"w":"B","log":"Actual","t":2169,"v":2.56},{"w":"B","log":"Actual","t":2175,"v":2.6},{"w":"B","log":"Actual","t":2181,"v":2.57},{"w":"B","log":"Actual","t":2187,"v":2.61},{"w":"B","log":"Actual","t":2193,"v":2.58},{"w":"B","log":"Actual","t":2199,"v":2.62},{"w":"B","log":"Actual","t":2205,"v":2.59},{"w":"B","log":"Actual","t":2211,"v":2.62},{"w":"B","log":"Actual","t":2217,"v":2.59},{"w":"B","log":"Actual","t":2223,"v":2.63},{"w":"B","log":"Actual","t":2229,"v":2.6},{"w":"B","log":"Actual","t":2235,"v":2.63},{"w":"B","log":"Actual","t":2241,"v":2.6},{"w":"B","log":"Actual","t":2247,"v":2.64},{"w":"B","log":"Actual","t":2253,"v":2.61},{"w":"B","log":"Actual","t":2259,"v":2.64},{"w":"B","log":"Actual","t":2265,"v":2.61},{"w":"B","log":"Actual","t":2271,"v":2.65},{"w":"B","log":"Actual","t":2277,"v":2.63},{"w":"B","log":"Actual","t":2283,"v":2.66},{"w":"B","log":"Actual","t":2289,"v":2.64},{"w":"B","log":"Actual","t":2295,"v":2.67},{"w":"B","log":"Actual","t":2300,"v":2.66},{"w":"B","log":"Actual","t":2304,"v":2.65},{"w":"B","log":"Actual","t":2307,"v":2.55},{"w":"B","log":"Actual","t":2310,"v":2.36},{"w":"B","log":"Actual","t":2313,"v":2.5},{"w":"B","log":"Actual","t":2316,"v":2.44},{"w":"B","log":"Actual","t":2319,"v":2.58},{"w":"B","log":"Actual","t":2322,"v":2.5},{"w":"B","log":"Actual","t":2325,"v":2.62},{"w":"B","log":"Actual","t":2328,"v":2.55},{"w":"B","log":"Actual","t":2331,"v":2.66},{"w":"B","log":"Actual","t":2334,"v":2.6},{"w":"B","log":"Actual","t":2337,"v":2.7},{"w":"B","log":"Actual","t":2340,"v":2.64},{"w":"B","log":"Actual","t":2343,"v":2.72},{"w":"B","log":"Actual","t":2346,"v":2.62},{"w":"B","log":"Actual","t":2349,"v":2.7},{"w":"B","log":"Actual","t":2352,"v":2.63},{"w":"B","log":"Actual","t":2355,"v":2.68},{"w":"B","log":"Actual","t":2358,"v":2.56},{"w":"B","log":"Actual","t":2361,"v":2.65},{"w":"B","log":"Actual","t":2364,"v":2.45},{"w":"B","log":"Actual","t":2367,"v":2.62},{"w":"B","log":"Actual","t":2370,"v":2.4},{"w":"B","log":"Actual","t":2373,"v":2.58},{"w":"B","log":"Actual","t":2376,"v":2.35},{"w":"B","log":"Actual","t":2379,"v":2.6},{"w":"B","log":"Actual","t":2382,"v":2.3},{"w":"B","log":"Actual","t":2385,"v":2.65},{"w":"B","log":"Actual","t":2388,"v":2.2},{"w":"B","log":"Actual","t":2391,"v":2.55},{"w":"B","log":"Actual","t":2394,"v":2.4},{"w":"B","log":"Actual","t":2397,"v":2.7},{"w":"B","log":"Actual","t":2400,"v":2.45},{"w":"B","log":"Actual","t":2403,"v":2.62},{"w":"B","log":"Actual","t":2406,"v":2.35},{"w":"B","log":"Actual","t":2409,"v":2.55},{"w":"B","log":"Actual","t":2412,"v":2.4},{"w":"B","log":"Actual","t":2415,"v":2.62},{"w":"B","log":"Actual","t":2418,"v":2.32},{"w":"B","log":"Actual","t":2421,"v":2.55},{"w":"B","log":"Actual","t":2424,"v":2.38},{"w":"B","log":"Actual","t":2427,"v":2.6},{"w":"B","log":"Actual","t":2430,"v":2.3},{"w":"B","log":"Actual","t":2433,"v":2.52},{"w":"B","log":"Actual","t":2436,"v":2.36},{"w":"B","log":"Actual","t":2439,"v":2.58},{"w":"B","log":"Actual","t":2442,"v":2.34},{"w":"B","log":"Actual","t":2445,"v":2.55},{"w":"B","log":"Actual","t":2448,"v":2.4},{"w":"B","log":"Actual","t":2451,"v":2.62},{"w":"B","log":"Actual","t":2454,"v":2.45},{"w":"B","log":"Actual","t":2457,"v":2.7},{"w":"B","log":"Actual","t":2460,"v":2.4},{"w":"B","log":"Actual","t":2463,"v":2.65},{"w":"B","log":"Actual","t":2466,"v":2.3},{"w":"B","log":"Actual","t":2469,"v":2.72},{"w":"B","log":"Actual","t":2472,"v":2.35},{"w":"B","log":"Actual","t":2475,"v":2.85},{"w":"B","log":"Actual","t":2478,"v":2.28},{"w":"B","log":"Actual","t":2481,"v":2.6},{"w":"B","log":"Actual","t":2484,"v":2.18},{"w":"B","log":"Actual","t":2487,"v":2.4},{"w":"B","log":"Actual","t":2490,"v":1.99},{"w":"B","log":"Actual","t":2493,"v":2.25},{"w":"B","log":"Actual","t":2496,"v":2.2},{"w":"B","log":"Actual","t":2499,"v":2.4},{"w":"B","log":"Actual","t":2502,"v":2.28},{"w":"B","log":"Actual","t":2505,"v":2.48},{"w":"B","log":"Actual","t":2508,"v":2.3},{"w":"B","log":"Actual","t":2511,"v":2.45},{"w":"B","log":"Actual","t":2514,"v":2.32},{"w":"B","log":"Actual","t":2517,"v":2.5},{"w":"B","log":"Actual","t":2520,"v":2.36},{"w":"B","log":"Actual","t":2523,"v":2.52},{"w":"B","log":"Actual","t":2526,"v":2.42},{"w":"B","log":"Actual","t":2529,"v":2.6},{"w":"B","log":"Actual","t":2532,"v":2.5},{"w":"B","log":"Actual","t":2535,"v":2.62},
{"w":"C","log":"Model","t":2275,"v":2.6},{"w":"C","log":"Model","t":2289,"v":2.63},{"w":"C","log":"Model","t":2303,"v":2.67},{"w":"C","log":"Model","t":2311,"v":2.6},{"w":"C","log":"Model","t":2317,"v":2.56},{"w":"C","log":"Model","t":2325,"v":2.5},{"w":"C","log":"Model","t":2333,"v":2.46},{"w":"C","log":"Model","t":2340,"v":2.5},{"w":"C","log":"Model","t":2345,"v":2.52},{"w":"C","log":"Model","t":2351,"v":2.52},{"w":"C","log":"Model","t":2356,"v":2.53},{"w":"C","log":"Model","t":2362,"v":2.55},{"w":"C","log":"Model","t":2367,"v":2.56},{"w":"C","log":"Model","t":2373,"v":2.54},{"w":"C","log":"Model","t":2378,"v":2.53},{"w":"C","log":"Model","t":2384,"v":2.57},{"w":"C","log":"Model","t":2389,"v":2.6},{"w":"C","log":"Model","t":2395,"v":2.56},{"w":"C","log":"Model","t":2400,"v":2.53},{"w":"C","log":"Model","t":2406,"v":2.56},{"w":"C","log":"Model","t":2412,"v":2.58},{"w":"C","log":"Model","t":2418,"v":2.55},{"w":"C","log":"Model","t":2423,"v":2.53},{"w":"C","log":"Model","t":2429,"v":2.55},{"w":"C","log":"Model","t":2434,"v":2.56},{"w":"C","log":"Model","t":2440,"v":2.54},{"w":"C","log":"Model","t":2445,"v":2.52},{"w":"C","log":"Model","t":2451,"v":2.51},{"w":"C","log":"Model","t":2456,"v":2.5},{"w":"C","log":"Model","t":2462,"v":2.51},{"w":"C","log":"Model","t":2468,"v":2.52},{"w":"C","log":"Model","t":2472,"v":2.56},{"w":"C","log":"Model","t":2476,"v":2.6},{"w":"C","log":"Model","t":2480,"v":2.59},{"w":"C","log":"Model","t":2485,"v":2.58},{"w":"C","log":"Model","t":2489,"v":2.54},
{"w":"C","log":"Actual","t":2275,"v":2.58},{"w":"C","log":"Actual","t":2279,"v":2.62},{"w":"C","log":"Actual","t":2283,"v":2.59},{"w":"C","log":"Actual","t":2287,"v":2.64},{"w":"C","log":"Actual","t":2291,"v":2.61},{"w":"C","log":"Actual","t":2295,"v":2.66},{"w":"C","log":"Actual","t":2299,"v":2.63},{"w":"C","log":"Actual","t":2303,"v":2.68},{"w":"C","log":"Actual","t":2306,"v":2.62},{"w":"C","log":"Actual","t":2309,"v":2.58},{"w":"C","log":"Actual","t":2312,"v":2.62},{"w":"C","log":"Actual","t":2315,"v":2.52},{"w":"C","log":"Actual","t":2318,"v":2.45},{"w":"C","log":"Actual","t":2321,"v":2.56},{"w":"C","log":"Actual","t":2324,"v":2.48},{"w":"C","log":"Actual","t":2327,"v":2.52},{"w":"C","log":"Actual","t":2330,"v":2.42},{"w":"C","log":"Actual","t":2333,"v":2.5},{"w":"C","log":"Actual","t":2336,"v":2.44},{"w":"C","log":"Actual","t":2339,"v":2.56},{"w":"C","log":"Actual","t":2342,"v":2.47},{"w":"C","log":"Actual","t":2345,"v":2.6},{"w":"C","log":"Actual","t":2348,"v":2.45},{"w":"C","log":"Actual","t":2351,"v":2.58},{"w":"C","log":"Actual","t":2354,"v":2.48},{"w":"C","log":"Actual","t":2357,"v":2.62},{"w":"C","log":"Actual","t":2360,"v":2.5},{"w":"C","log":"Actual","t":2363,"v":2.66},{"w":"C","log":"Actual","t":2366,"v":2.47},{"w":"C","log":"Actual","t":2369,"v":2.64},{"w":"C","log":"Actual","t":2372,"v":2.44},{"w":"C","log":"Actual","t":2375,"v":2.6},{"w":"C","log":"Actual","t":2378,"v":2.42},{"w":"C","log":"Actual","t":2381,"v":2.66},{"w":"C","log":"Actual","t":2384,"v":2.5},{"w":"C","log":"Actual","t":2387,"v":2.7},{"w":"C","log":"Actual","t":2390,"v":2.52},{"w":"C","log":"Actual","t":2393,"v":2.64},{"w":"C","log":"Actual","t":2396,"v":2.44},{"w":"C","log":"Actual","t":2399,"v":2.6},{"w":"C","log":"Actual","t":2402,"v":2.42},{"w":"C","log":"Actual","t":2405,"v":2.66},{"w":"C","log":"Actual","t":2408,"v":2.5},{"w":"C","log":"Actual","t":2411,"v":2.68},{"w":"C","log":"Actual","t":2414,"v":2.47},{"w":"C","log":"Actual","t":2417,"v":2.62},{"w":"C","log":"Actual","t":2420,"v":2.42},{"w":"C","log":"Actual","t":2423,"v":2.6},{"w":"C","log":"Actual","t":2426,"v":2.45},{"w":"C","log":"Actual","t":2429,"v":2.64},{"w":"C","log":"Actual","t":2432,"v":2.46},{"w":"C","log":"Actual","t":2435,"v":2.66},{"w":"C","log":"Actual","t":2438,"v":2.41},{"w":"C","log":"Actual","t":2441,"v":2.58},{"w":"C","log":"Actual","t":2444,"v":2.45},{"w":"C","log":"Actual","t":2447,"v":2.6},{"w":"C","log":"Actual","t":2450,"v":2.42},{"w":"C","log":"Actual","t":2453,"v":2.56},{"w":"C","log":"Actual","t":2456,"v":2.44},{"w":"C","log":"Actual","t":2459,"v":2.58},{"w":"C","log":"Actual","t":2462,"v":2.43},{"w":"C","log":"Actual","t":2465,"v":2.56},{"w":"C","log":"Actual","t":2468,"v":2.47},{"w":"C","log":"Actual","t":2471,"v":2.62},{"w":"C","log":"Actual","t":2474,"v":2.52},{"w":"C","log":"Actual","t":2477,"v":2.66},{"w":"C","log":"Actual","t":2480,"v":2.5},{"w":"C","log":"Actual","t":2483,"v":2.65},{"w":"C","log":"Actual","t":2486,"v":2.52},{"w":"C","log":"Actual","t":2489,"v":2.57},
{"w":"D","log":"Model","t":2375,"v":2.6},{"w":"D","log":"Model","t":2382,"v":2.62},{"w":"D","log":"Model","t":2389,"v":2.64},{"w":"D","log":"Model","t":2395,"v":2.63},{"w":"D","log":"Model","t":2400,"v":2.62},{"w":"D","log":"Model","t":2405,"v":2.58},{"w":"D","log":"Model","t":2409,"v":2.55},{"w":"D","log":"Model","t":2413,"v":2.5},{"w":"D","log":"Model","t":2417,"v":2.45},{"w":"D","log":"Model","t":2421,"v":2.48},{"w":"D","log":"Model","t":2426,"v":2.52},{"w":"D","log":"Model","t":2430,"v":2.5},{"w":"D","log":"Model","t":2434,"v":2.49},{"w":"D","log":"Model","t":2438,"v":2.52},{"w":"D","log":"Model","t":2442,"v":2.55},{"w":"D","log":"Model","t":2447,"v":2.56},{"w":"D","log":"Model","t":2451,"v":2.57},{"w":"D","log":"Model","t":2455,"v":2.56},{"w":"D","log":"Model","t":2459,"v":2.54},{"w":"D","log":"Model","t":2464,"v":2.53},{"w":"D","log":"Model","t":2468,"v":2.52},{"w":"D","log":"Model","t":2472,"v":2.51},{"w":"D","log":"Model","t":2476,"v":2.5},{"w":"D","log":"Model","t":2480,"v":2.53},{"w":"D","log":"Model","t":2484,"v":2.55},{"w":"D","log":"Model","t":2489,"v":2.52},{"w":"D","log":"Model","t":2493,"v":2.5},{"w":"D","log":"Model","t":2497,"v":2.52},{"w":"D","log":"Model","t":2501,"v":2.54},{"w":"D","log":"Model","t":2505,"v":2.52},{"w":"D","log":"Model","t":2510,"v":2.49},{"w":"D","log":"Model","t":2514,"v":2.51},{"w":"D","log":"Model","t":2518,"v":2.54},{"w":"D","log":"Model","t":2522,"v":2.58},{"w":"D","log":"Model","t":2526,"v":2.6},{"w":"D","log":"Model","t":2530,"v":2.58},{"w":"D","log":"Model","t":2535,"v":2.55},{"w":"D","log":"Model","t":2539,"v":2.51},{"w":"D","log":"Model","t":2543,"v":2.47},{"w":"D","log":"Model","t":2547,"v":2.44},
{"w":"D","log":"Actual","t":2375,"v":2.59},{"w":"D","log":"Actual","t":2379,"v":2.61},{"w":"D","log":"Actual","t":2383,"v":2.63},{"w":"D","log":"Actual","t":2387,"v":2.65},{"w":"D","log":"Actual","t":2391,"v":2.64},{"w":"D","log":"Actual","t":2395,"v":2.63},{"w":"D","log":"Actual","t":2399,"v":2.61},{"w":"D","log":"Actual","t":2402,"v":2.59},{"w":"D","log":"Actual","t":2405,"v":2.55},{"w":"D","log":"Actual","t":2408,"v":2.52},{"w":"D","log":"Actual","t":2411,"v":2.44},{"w":"D","log":"Actual","t":2414,"v":2.5},{"w":"D","log":"Actual","t":2417,"v":2.42},{"w":"D","log":"Actual","t":2420,"v":2.52},{"w":"D","log":"Actual","t":2423,"v":2.46},{"w":"D","log":"Actual","t":2426,"v":2.58},{"w":"D","log":"Actual","t":2429,"v":2.47},{"w":"D","log":"Actual","t":2432,"v":2.55},{"w":"D","log":"Actual","t":2435,"v":2.44},{"w":"D","log":"Actual","t":2438,"v":2.6},{"w":"D","log":"Actual","t":2441,"v":2.5},{"w":"D","log":"Actual","t":2444,"v":2.64},{"w":"D","log":"Actual","t":2447,"v":2.52},{"w":"D","log":"Actual","t":2450,"v":2.66},{"w":"D","log":"Actual","t":2453,"v":2.48},{"w":"D","log":"Actual","t":2456,"v":2.62},{"w":"D","log":"Actual","t":2459,"v":2.45},{"w":"D","log":"Actual","t":2462,"v":2.66},{"w":"D","log":"Actual","t":2465,"v":2.4},{"w":"D","log":"Actual","t":2468,"v":2.62},{"w":"D","log":"Actual","t":2471,"v":2.38},{"w":"D","log":"Actual","t":2474,"v":2.68},{"w":"D","log":"Actual","t":2477,"v":2.36},{"w":"D","log":"Actual","t":2480,"v":2.64},{"w":"D","log":"Actual","t":2483,"v":2.42},{"w":"D","log":"Actual","t":2486,"v":2.7},{"w":"D","log":"Actual","t":2489,"v":2.38},{"w":"D","log":"Actual","t":2492,"v":2.65},{"w":"D","log":"Actual","t":2495,"v":2.34},{"w":"D","log":"Actual","t":2498,"v":2.68},{"w":"D","log":"Actual","t":2501,"v":2.4},{"w":"D","log":"Actual","t":2504,"v":2.72},{"w":"D","log":"Actual","t":2507,"v":2.36},{"w":"D","log":"Actual","t":2510,"v":2.6},{"w":"D","log":"Actual","t":2513,"v":2.33},{"w":"D","log":"Actual","t":2516,"v":2.62},{"w":"D","log":"Actual","t":2519,"v":2.45},{"w":"D","log":"Actual","t":2522,"v":2.7},{"w":"D","log":"Actual","t":2525,"v":2.52},{"w":"D","log":"Actual","t":2528,"v":2.66},{"w":"D","log":"Actual","t":2531,"v":2.48},{"w":"D","log":"Actual","t":2534,"v":2.72},{"w":"D","log":"Actual","t":2537,"v":2.42},{"w":"D","log":"Actual","t":2540,"v":2.62},{"w":"D","log":"Actual","t":2543,"v":2.36},{"w":"D","log":"Actual","t":2546,"v":2.55},{"w":"D","log":"Actual","t":2548,"v":2.4},
{"w":"E","log":"Model","t":2115,"v":2.66},{"w":"E","log":"Model","t":2129,"v":2.64},{"w":"E","log":"Model","t":2143,"v":2.69},{"w":"E","log":"Model","t":2154,"v":2.68},{"w":"E","log":"Model","t":2159,"v":2.63},{"w":"E","log":"Model","t":2163,"v":2.57},{"w":"E","log":"Model","t":2168,"v":2.47},{"w":"E","log":"Model","t":2176,"v":2.5},{"w":"E","log":"Model","t":2182,"v":2.64},{"w":"E","log":"Model","t":2194,"v":2.62},{"w":"E","log":"Model","t":2205,"v":2.57},{"w":"E","log":"Model","t":2213,"v":2.5},{"w":"E","log":"Model","t":2222,"v":2.45},{"w":"E","log":"Model","t":2230,"v":2.54},{"w":"E","log":"Model","t":2238,"v":2.62},{"w":"E","log":"Model","t":2250,"v":2.68},{"w":"E","log":"Model","t":2261,"v":2.64},{"w":"E","log":"Model","t":2272,"v":2.57},{"w":"E","log":"Model","t":2280,"v":2.49},{"w":"E","log":"Model","t":2289,"v":2.45},{"w":"E","log":"Model","t":2297,"v":2.44},{"w":"E","log":"Model","t":2305,"v":2.56},{"w":"E","log":"Model","t":2314,"v":2.66},{"w":"E","log":"Model","t":2319,"v":2.67},
{"w":"E","log":"Actual","t":2115,"v":2.65},{"w":"E","log":"Actual","t":2118,"v":2.68},{"w":"E","log":"Actual","t":2121,"v":2.63},{"w":"E","log":"Actual","t":2124,"v":2.67},{"w":"E","log":"Actual","t":2127,"v":2.62},{"w":"E","log":"Actual","t":2130,"v":2.7},{"w":"E","log":"Actual","t":2133,"v":2.64},{"w":"E","log":"Actual","t":2136,"v":2.72},{"w":"E","log":"Actual","t":2139,"v":2.66},{"w":"E","log":"Actual","t":2142,"v":2.71},{"w":"E","log":"Actual","t":2145,"v":2.67},{"w":"E","log":"Actual","t":2148,"v":2.73},{"w":"E","log":"Actual","t":2151,"v":2.66},{"w":"E","log":"Actual","t":2154,"v":2.7},{"w":"E","log":"Actual","t":2157,"v":2.62},{"w":"E","log":"Actual","t":2160,"v":2.58},{"w":"E","log":"Actual","t":2163,"v":2.5},{"w":"E","log":"Actual","t":2166,"v":2.44},{"w":"E","log":"Actual","t":2169,"v":2.52},{"w":"E","log":"Actual","t":2172,"v":2.46},{"w":"E","log":"Actual","t":2175,"v":2.55},{"w":"E","log":"Actual","t":2178,"v":2.6},{"w":"E","log":"Actual","t":2181,"v":2.66},{"w":"E","log":"Actual","t":2184,"v":2.6},{"w":"E","log":"Actual","t":2187,"v":2.7},{"w":"E","log":"Actual","t":2190,"v":2.58},{"w":"E","log":"Actual","t":2193,"v":2.66},{"w":"E","log":"Actual","t":2196,"v":2.56},{"w":"E","log":"Actual","t":2199,"v":2.68},{"w":"E","log":"Actual","t":2202,"v":2.52},{"w":"E","log":"Actual","t":2205,"v":2.62},{"w":"E","log":"Actual","t":2208,"v":2.4},{"w":"E","log":"Actual","t":2211,"v":2.58},{"w":"E","log":"Actual","t":2214,"v":2.38},{"w":"E","log":"Actual","t":2217,"v":2.66},{"w":"E","log":"Actual","t":2220,"v":2.42},{"w":"E","log":"Actual","t":2223,"v":2.55},{"w":"E","log":"Actual","t":2226,"v":2.47},{"w":"E","log":"Actual","t":2229,"v":2.6},{"w":"E","log":"Actual","t":2232,"v":2.5},{"w":"E","log":"Actual","t":2235,"v":2.66},{"w":"E","log":"Actual","t":2238,"v":2.58},{"w":"E","log":"Actual","t":2241,"v":2.7},{"w":"E","log":"Actual","t":2244,"v":2.62},{"w":"E","log":"Actual","t":2247,"v":2.72},{"w":"E","log":"Actual","t":2250,"v":2.65},{"w":"E","log":"Actual","t":2253,"v":2.7},{"w":"E","log":"Actual","t":2256,"v":2.62},{"w":"E","log":"Actual","t":2259,"v":2.68},{"w":"E","log":"Actual","t":2262,"v":2.58},{"w":"E","log":"Actual","t":2265,"v":2.66},{"w":"E","log":"Actual","t":2268,"v":2.54},{"w":"E","log":"Actual","t":2271,"v":2.62},{"w":"E","log":"Actual","t":2274,"v":2.4},{"w":"E","log":"Actual","t":2277,"v":2.56},{"w":"E","log":"Actual","t":2280,"v":2.37},{"w":"E","log":"Actual","t":2283,"v":2.52},{"w":"E","log":"Actual","t":2286,"v":2.4},{"w":"E","log":"Actual","t":2289,"v":2.54},{"w":"E","log":"Actual","t":2292,"v":2.42},{"w":"E","log":"Actual","t":2295,"v":2.5},{"w":"E","log":"Actual","t":2298,"v":2.44},{"w":"E","log":"Actual","t":2301,"v":2.55},{"w":"E","log":"Actual","t":2304,"v":2.5},{"w":"E","log":"Actual","t":2307,"v":2.64},{"w":"E","log":"Actual","t":2310,"v":2.58},{"w":"E","log":"Actual","t":2313,"v":2.7},{"w":"E","log":"Actual","t":2316,"v":2.64},{"w":"E","log":"Actual","t":2319,"v":2.68}
]
},
"spacing":19,
"resolve":{"scale":{"color":"independent","stroke":"independent","opacity":"independent","shape":"independent"}},
"vconcat":[
{"spacing":0,"bounds":"flush","resolve":{"scale":{"stroke":"independent"}},
 "vconcat":[
  {"width":494,"height":18,
   "data":{"values":[{"label":"Well A","panel":"panel a","box":"a"},{"label":"Well B","panel":"panel a","box":"a"},{"label":"Well C","panel":"panel a","box":"a"},{"label":"Well D","panel":"panel a","box":"a"},{"label":"Well E","panel":"panel a","box":"a"}]},
   "encoding":{"x":{"field":"label","type":"nominal","sort":null,"scale":{"paddingInner":0.133,"paddingOuter":0},"axis":null}},
   "layer":[
    {"mark":{"type":"rect","fill":"#f9c293"}},
    {"mark":{"type":"text","font":"Liberation Sans","fontSize":13,"fontWeight":"bold","color":"#000"},"encoding":{"text":{"field":"label","type":"nominal"}}},
    {"transform":[{"filter":"datum.panel == 'none'"}],"mark":{"type":"rect","filled":false,"stroke":"#6a6a6a","strokeWidth":1.3},
     "encoding":{
      "opacity":{"field":"panel","type":"nominal","scale":{"domain":["panel a"],"range":[1,1]},"legend":{"orient":"none","legendX":-53,"legendY":-15,"title":null,"labelExpr":"''","symbolType":"M-1,-1H2.339V1H-1Z","symbolSize":110889,"symbolStrokeWidth":1.3,"symbolStrokeColor":"#6a6a6a","symbolFillColor":"transparent"}}}},
    {"transform":[{"filter":"datum.panel == 'none'"}],"mark":{"type":"point","filled":false,"stroke":"#333","strokeWidth":1.2,"size":576},
     "encoding":{
      "shape":{"field":"box","type":"nominal","scale":{"domain":["a"],"range":["square"]},"legend":{"orient":"none","legendX":-40.5,"legendY":293,"title":null,"symbolSize":576,"symbolStrokeWidth":1.2,"symbolStrokeColor":"#333","symbolFillColor":"transparent","labelAlign":"center","labelOffset":-13,"labelFontSize":14}}}}
   ]},
  {"spacing":0,"bounds":"flush","resolve":{"scale":{"stroke":"independent"}},"hconcat":[
   {"width":94,"height":239,"resolve":{"axis":{"x":"independent","y":"independent"}},"layer":[
    {"data":{"name":"gr"},"transform":[{"filter":"datum.w=='A' && datum.log=='Actual'"}],"mark":{"type":"line","interpolate":"step-before","strokeWidth":1},
     "encoding":{"x":{"field":"v","type":"quantitative","scale":{"domain":[12,200],"nice":false,"zero":false},"axis":{"orient":"top","grid":false,"ticks":false,"labels":false,"domainColor":"#7f7f7f","title":null}},
      "y":{"field":"t","type":"quantitative","scale":{"domain":[2107,2547],"reverse":true,"nice":false,"zero":false},"axis":null},
      "order":{"field":"t","type":"quantitative"},
      "color":{"field":"log","type":"nominal","scale":{"domain":["Actual","Model"],"range":["#2b2b2b","#ff1f1f"]}}}},
    {"data":{"name":"gr"},"transform":[{"filter":"datum.w=='A' && datum.log=='Model'"}],"mark":{"type":"line","strokeWidth":1.3},
     "encoding":{"x":{"field":"v","type":"quantitative","axis":{"orient":"bottom","tickCount":38,"grid":true,"gridColor":{"condition":{"test":"datum.value % 25 == 0","value":"#5bdc5b"},"value":"#c8f1c8"},"tickOpacity":{"condition":{"test":"datum.value % 50 == 0 && datum.value < 200","value":1},"value":0},"labelExpr":"datum.value % 50 == 0 && datum.value < 200 ? format(datum.value,'d') : ''","title":null}},
      "y":{"field":"t","type":"quantitative","axis":{"orient":"left","tickCount":88,"grid":true,"gridColor":{"condition":{"test":"datum.value % 25 == 0","value":"#5bdc5b"},"value":"#c8f1c8"},"tickOpacity":{"condition":{"test":"datum.value % 50 == 0","value":1},"value":0},"labelExpr":"datum.value % 50 == 0 ? format(datum.value,'d') : ''","title":["Time","(ms)"],"titleAngle":0,"titleAlign":"center","titleBaseline":"bottom","titleX":-28,"titleY":-7,"titleLineHeight":14}},
      "order":{"field":"t","type":"quantitative"},
      "color":{"field":"log","type":"nominal","legend":{"orient":"none","legendX":82,"legendY":291,"direction":"horizontal","columns":2,"title":null,"symbolType":"stroke","symbolSize":900,"symbolStrokeWidth":3,"labelFontSize":11,"labelOffset":6,"columnPadding":149,"labelExpr":"datum.label + ' Log'"}}}},
    {"data":{"name":"fa"},"transform":[{"filter":"datum.w=='A'"}],"mark":{"type":"rect","filled":false,"strokeWidth":2},
     "encoding":{"y":{"field":"top","type":"quantitative","axis":null},"y2":{"field":"base"},"stroke":{"field":"fm","type":"nominal","scale":{"domain":["Montara","Plover","Nome"],"range":["#e246d6","#f6c131","#2547d9"]},"legend":null}}}
   ]},
   {"width":100,"height":239,"resolve":{"axis":{"x":"independent","y":"independent"}},"layer":[
    {"data":{"name":"gr"},"transform":[{"filter":"datum.w=='B' && datum.log=='Actual'"}],"mark":{"type":"line","interpolate":"step-before","strokeWidth":1},
     "encoding":{"x":{"field":"v","type":"quantitative","scale":{"domain":[0,200],"nice":false,"zero":false},"axis":{"orient":"top","grid":false,"ticks":false,"labels":false,"domainColor":"#7f7f7f","title":null}},
      "y":{"field":"t","type":"quantitative","scale":{"domain":[2107,2547],"reverse":true,"nice":false,"zero":false},"axis":null},
      "order":{"field":"t","type":"quantitative"},
      "color":{"field":"log","type":"nominal","scale":{"domain":["Actual","Model"],"range":["#2b2b2b","#ff1f1f"]}}}},
    {"data":{"name":"gr"},"transform":[{"filter":"datum.w=='B' && datum.log=='Model'"}],"mark":{"type":"line","strokeWidth":1.3},
     "encoding":{"x":{"field":"v","type":"quantitative","axis":{"orient":"bottom","tickCount":40,"grid":true,"gridColor":{"condition":{"test":"datum.value % 25 == 0","value":"#5bdc5b"},"value":"#c8f1c8"},"tickOpacity":{"condition":{"test":"datum.value % 50 == 0 && datum.value < 200","value":1},"value":0},"labelExpr":"datum.value % 50 == 0 && datum.value < 200 ? format(datum.value,'d') : ''","title":null}},
      "y":{"field":"t","type":"quantitative","axis":{"orient":"left","tickCount":88,"grid":true,"gridColor":{"condition":{"test":"datum.value % 25 == 0","value":"#5bdc5b"},"value":"#c8f1c8"},"ticks":false,"labels":false,"domain":false,"title":null}},
      "order":{"field":"t","type":"quantitative"},
      "color":{"field":"log","type":"nominal"}}},
    {"data":{"name":"fa"},"transform":[{"filter":"datum.w=='B'"}],"mark":{"type":"rect","filled":false,"strokeWidth":2},
     "encoding":{"y":{"field":"top","type":"quantitative","axis":null},"y2":{"field":"base"},"stroke":{"field":"fm","type":"nominal","scale":{"domain":["Montara","Plover","Nome"],"range":["#e246d6","#f6c131","#2547d9"]},"legend":null}}}
   ]},
   {"width":100,"height":239,"resolve":{"axis":{"x":"independent","y":"independent"}},"layer":[
    {"data":{"name":"gr"},"transform":[{"filter":"datum.w=='C' && datum.log=='Actual'"}],"mark":{"type":"line","interpolate":"step-before","strokeWidth":1},
     "encoding":{"x":{"field":"v","type":"quantitative","scale":{"domain":[0,200],"nice":false,"zero":false},"axis":{"orient":"top","grid":false,"ticks":false,"labels":false,"domainColor":"#7f7f7f","title":null}},
      "y":{"field":"t","type":"quantitative","scale":{"domain":[2107,2547],"reverse":true,"nice":false,"zero":false},"axis":null},
      "order":{"field":"t","type":"quantitative"},
      "color":{"field":"log","type":"nominal","scale":{"domain":["Actual","Model"],"range":["#2b2b2b","#ff1f1f"]}}}},
    {"data":{"name":"gr"},"transform":[{"filter":"datum.w=='C' && datum.log=='Model'"}],"mark":{"type":"line","strokeWidth":1.3},
     "encoding":{"x":{"field":"v","type":"quantitative","axis":{"orient":"bottom","tickCount":40,"grid":true,"gridColor":{"condition":{"test":"datum.value % 25 == 0","value":"#5bdc5b"},"value":"#c8f1c8"},"tickOpacity":{"condition":{"test":"datum.value % 50 == 0 && datum.value < 200","value":1},"value":0},"labelExpr":"datum.value % 50 == 0 && datum.value < 200 ? format(datum.value,'d') : ''","title":"Gamma Ray Log (API)"}},
      "y":{"field":"t","type":"quantitative","axis":{"orient":"left","tickCount":88,"grid":true,"gridColor":{"condition":{"test":"datum.value % 25 == 0","value":"#5bdc5b"},"value":"#c8f1c8"},"ticks":false,"labels":false,"domain":false,"title":null}},
      "order":{"field":"t","type":"quantitative"},
      "color":{"field":"log","type":"nominal"}}},
    {"data":{"name":"fa"},"transform":[{"filter":"datum.w=='C'"}],"mark":{"type":"rect","filled":false,"strokeWidth":2},
     "encoding":{"y":{"field":"top","type":"quantitative","axis":null},"y2":{"field":"base"},"stroke":{"field":"fm","type":"nominal","scale":{"domain":["Montara","Plover","Nome"],"range":["#e246d6","#f6c131","#2547d9"]},"legend":null}}}
   ]},
   {"width":100,"height":239,"resolve":{"axis":{"x":"independent","y":"independent"}},"layer":[
    {"data":{"name":"gr"},"transform":[{"filter":"datum.w=='D' && datum.log=='Actual'"}],"mark":{"type":"line","interpolate":"step-before","strokeWidth":1},
     "encoding":{"x":{"field":"v","type":"quantitative","scale":{"domain":[0,200],"nice":false,"zero":false},"axis":{"orient":"top","grid":false,"ticks":false,"labels":false,"domainColor":"#7f7f7f","title":null}},
      "y":{"field":"t","type":"quantitative","scale":{"domain":[2107,2547],"reverse":true,"nice":false,"zero":false},"axis":null},
      "order":{"field":"t","type":"quantitative"},
      "color":{"field":"log","type":"nominal","scale":{"domain":["Actual","Model"],"range":["#2b2b2b","#ff1f1f"]}}}},
    {"data":{"name":"gr"},"transform":[{"filter":"datum.w=='D' && datum.log=='Model'"}],"mark":{"type":"line","strokeWidth":1.3},
     "encoding":{"x":{"field":"v","type":"quantitative","axis":{"orient":"bottom","tickCount":40,"grid":true,"gridColor":{"condition":{"test":"datum.value % 25 == 0","value":"#5bdc5b"},"value":"#c8f1c8"},"tickOpacity":{"condition":{"test":"datum.value % 50 == 0 && datum.value < 200","value":1},"value":0},"labelExpr":"datum.value % 50 == 0 && datum.value < 200 ? format(datum.value,'d') : ''","title":null}},
      "y":{"field":"t","type":"quantitative","axis":{"orient":"left","tickCount":88,"grid":true,"gridColor":{"condition":{"test":"datum.value % 25 == 0","value":"#5bdc5b"},"value":"#c8f1c8"},"ticks":false,"labels":false,"domain":false,"title":null}},
      "order":{"field":"t","type":"quantitative"},
      "color":{"field":"log","type":"nominal"}}},
    {"data":{"name":"fa"},"transform":[{"filter":"datum.w=='D'"}],"mark":{"type":"rect","filled":false,"strokeWidth":2},
     "encoding":{"y":{"field":"top","type":"quantitative","axis":null},"y2":{"field":"base"},"stroke":{"field":"fm","type":"nominal","scale":{"domain":["Montara","Plover","Nome"],"range":["#e246d6","#f6c131","#2547d9"]},"legend":null}}}
   ]},
   {"width":100,"height":239,"resolve":{"axis":{"x":"independent","y":"independent"}},"layer":[
    {"data":{"name":"gr"},"transform":[{"filter":"datum.w=='E' && datum.log=='Actual'"}],"mark":{"type":"line","interpolate":"step-before","strokeWidth":1},
     "encoding":{"x":{"field":"v","type":"quantitative","scale":{"domain":[0,200],"nice":false,"zero":false},"axis":{"orient":"top","grid":false,"ticks":false,"labels":false,"domainColor":"#7f7f7f","title":null}},
      "y":{"field":"t","type":"quantitative","scale":{"domain":[2107,2547],"reverse":true,"nice":false,"zero":false},"axis":{"orient":"right","grid":false,"ticks":false,"labels":false,"domainColor":"#7f7f7f","title":null}},
      "order":{"field":"t","type":"quantitative"},
      "color":{"field":"log","type":"nominal","scale":{"domain":["Actual","Model"],"range":["#2b2b2b","#ff1f1f"]}}}},
    {"data":{"name":"gr"},"transform":[{"filter":"datum.w=='E' && datum.log=='Model'"}],"mark":{"type":"line","strokeWidth":1.3},
     "encoding":{"x":{"field":"v","type":"quantitative","axis":{"orient":"bottom","tickCount":40,"grid":true,"gridColor":{"condition":{"test":"datum.value % 25 == 0","value":"#5bdc5b"},"value":"#c8f1c8"},"tickOpacity":{"condition":{"test":"datum.value % 50 == 0","value":1},"value":0},"labelExpr":"datum.value % 50 == 0 ? format(datum.value,'d') : ''","labelOffset":{"condition":{"test":"datum.value == 200","value":-4},"value":0},"title":null}},
      "y":{"field":"t","type":"quantitative","axis":{"orient":"left","tickCount":88,"grid":true,"gridColor":{"condition":{"test":"datum.value % 25 == 0","value":"#5bdc5b"},"value":"#c8f1c8"},"ticks":false,"labels":false,"domain":false,"title":null}},
      "order":{"field":"t","type":"quantitative"},
      "color":{"field":"log","type":"nominal"}}},
    {"data":{"name":"fa"},"transform":[{"filter":"datum.w=='E'"}],"mark":{"type":"rect","filled":false,"strokeWidth":2},
     "encoding":{"y":{"field":"top","type":"quantitative","axis":null},"y2":{"field":"base"},"stroke":{"field":"fm","type":"nominal","scale":{"domain":["Montara","Plover","Nome"],"range":["#e246d6","#f6c131","#2547d9"]},"legend":{"orient":"bottom-right","offset":4,"title":null,"strokeColor":"#444","fillColor":"white","padding":4,"rowPadding":2,"symbolType":"M-1,-1H8.4V1H-1Z","symbolSize":121,"symbolStrokeWidth":2,"symbolFillColor":"transparent","labelAlign":"left","labelOffset":-7,"labelFontSize":12}}}}
   ]}
  ]}
 ]},
{"spacing":0,"bounds":"flush","resolve":{"scale":{"stroke":"independent"}},
 "vconcat":[
  {"width":494,"height":18,
   "data":{"values":[{"label":"Well A","panel":"panel b","box":"b"},{"label":"Well B","panel":"panel b","box":"b"},{"label":"Well C","panel":"panel b","box":"b"},{"label":"Well D","panel":"panel b","box":"b"},{"label":"Well E","panel":"panel b","box":"b"}]},
   "encoding":{"x":{"field":"label","type":"nominal","sort":null,"scale":{"paddingInner":0.133,"paddingOuter":0},"axis":null}},
   "layer":[
    {"mark":{"type":"rect","fill":"#f9c293"}},
    {"mark":{"type":"text","font":"Liberation Sans","fontSize":13,"fontWeight":"bold","color":"#000"},"encoding":{"text":{"field":"label","type":"nominal"}}},
    {"transform":[{"filter":"datum.panel == 'none'"}],"mark":{"type":"rect","filled":false,"stroke":"#6a6a6a","strokeWidth":1.3},
     "encoding":{
      "opacity":{"field":"panel","type":"nominal","scale":{"domain":["panel b"],"range":[1,1]},"legend":{"orient":"none","legendX":-53,"legendY":-1,"title":null,"labelExpr":"''","symbolType":"M-1,-1H2.38V1H-1Z","symbolSize":108241,"symbolStrokeWidth":1.3,"symbolStrokeColor":"#6a6a6a","symbolFillColor":"transparent"}}}},
    {"transform":[{"filter":"datum.panel == 'none'"}],"mark":{"type":"point","filled":false,"stroke":"#333","strokeWidth":1.2,"size":576},
     "encoding":{
      "shape":{"field":"box","type":"nominal","scale":{"domain":["b"],"range":["square"]},"legend":{"orient":"none","legendX":-44.5,"legendY":308,"title":null,"symbolSize":576,"symbolStrokeWidth":1.2,"symbolStrokeColor":"#333","symbolFillColor":"transparent","labelAlign":"center","labelOffset":-13,"labelFontSize":14}}}}
   ]},
  {"spacing":0,"bounds":"flush","resolve":{"scale":{"stroke":"independent"}},"hconcat":[
   {"width":98.8,"height":264,"resolve":{"axis":{"x":"independent","y":"independent"}},"layer":[
    {"data":{"name":"den"},"transform":[{"filter":"datum.w=='A' && datum.log=='Actual'"}],"mark":{"type":"line","interpolate":"step-before","strokeWidth":1},
     "encoding":{"x":{"field":"v","type":"quantitative","scale":{"domain":[2,3],"nice":false,"zero":false},"axis":{"orient":"top","grid":false,"ticks":false,"labels":false,"domainColor":"#7f7f7f","title":null}},
      "y":{"field":"t","type":"quantitative","scale":{"domain":[2106,2549],"reverse":true,"nice":false,"zero":false},"axis":null},
      "order":{"field":"t","type":"quantitative"},
      "color":{"field":"log","type":"nominal","scale":{"domain":["Actual","Model"],"range":["#2b2b2b","#ff1f1f"]}}}},
    {"data":{"name":"den"},"transform":[{"filter":"datum.w=='A' && datum.log=='Model'"}],"mark":{"type":"line","strokeWidth":1.3},
     "encoding":{"x":{"field":"v","type":"quantitative","axis":{"orient":"bottom","values":[2,2.025,2.05,2.075,2.1,2.125,2.15,2.175,2.2,2.225,2.25,2.275,2.3,2.325,2.35,2.375,2.4,2.425,2.45,2.475,2.5,2.525,2.55,2.575,2.6,2.625,2.65,2.675,2.7,2.725,2.75,2.775,2.8,2.825,2.85,2.875,2.9,2.925,2.95,2.975,3],"grid":true,"gridColor":{"condition":{"test":"abs(datum.value*8 - round(datum.value*8)) < 0.01","value":"#5bdc5b"},"value":"#c8f1c8"},"tickOpacity":{"condition":{"test":"abs(datum.value*4 - round(datum.value*4)) < 0.01 && datum.value < 2.99","value":1},"value":0},"labelExpr":"abs(datum.value*4 - round(datum.value*4)) < 0.01 && datum.value < 2.99 ? (datum.value == 2 ? '2.0' : format(datum.value,'.2~f')) : ''","title":null}},
      "y":{"field":"t","type":"quantitative","axis":{"orient":"left","tickCount":88,"grid":true,"gridColor":{"condition":{"test":"datum.value % 20 == 0","value":"#5bdc5b"},"value":"#c8f1c8"},"tickOpacity":{"condition":{"test":"datum.value % 50 == 0","value":1},"value":0},"labelExpr":"datum.value % 50 == 0 ? format(datum.value,'d') : ''","title":["Time","(ms)"],"titleAngle":0,"titleAlign":"center","titleBaseline":"bottom","titleX":-26,"titleY":-2,"titleLineHeight":14}},
      "order":{"field":"t","type":"quantitative"},
      "color":{"field":"log","type":"nominal","legend":{"orient":"none","legendX":70.5,"legendY":306,"direction":"horizontal","columns":2,"title":null,"symbolType":"stroke","symbolSize":900,"symbolStrokeWidth":3,"labelFontSize":11,"labelOffset":8,"columnPadding":147,"labelExpr":"datum.label + ' Log'"}}}},
    {"data":{"name":"fb"},"transform":[{"filter":"datum.w=='A'"}],"mark":{"type":"rect","filled":false,"strokeWidth":2},
     "encoding":{"y":{"field":"top","type":"quantitative","axis":null},"y2":{"field":"base"},"stroke":{"field":"fm","type":"nominal","scale":{"domain":["Montara","Plover","Nome"],"range":["#e246d6","#f6c131","#2547d9"]},"legend":null}}}
   ]},
   {"width":98.8,"height":264,"resolve":{"axis":{"x":"independent","y":"independent"}},"layer":[
    {"data":{"name":"den"},"transform":[{"filter":"datum.w=='B' && datum.log=='Actual'"}],"mark":{"type":"line","interpolate":"step-before","strokeWidth":1},
     "encoding":{"x":{"field":"v","type":"quantitative","scale":{"domain":[2,3],"nice":false,"zero":false},"axis":{"orient":"top","grid":false,"ticks":false,"labels":false,"domainColor":"#7f7f7f","title":null}},
      "y":{"field":"t","type":"quantitative","scale":{"domain":[2106,2549],"reverse":true,"nice":false,"zero":false},"axis":null},
      "order":{"field":"t","type":"quantitative"},
      "color":{"field":"log","type":"nominal","scale":{"domain":["Actual","Model"],"range":["#2b2b2b","#ff1f1f"]}}}},
    {"data":{"name":"den"},"transform":[{"filter":"datum.w=='B' && datum.log=='Model'"}],"mark":{"type":"line","strokeWidth":1.3},
     "encoding":{"x":{"field":"v","type":"quantitative","axis":{"orient":"bottom","values":[2,2.025,2.05,2.075,2.1,2.125,2.15,2.175,2.2,2.225,2.25,2.275,2.3,2.325,2.35,2.375,2.4,2.425,2.45,2.475,2.5,2.525,2.55,2.575,2.6,2.625,2.65,2.675,2.7,2.725,2.75,2.775,2.8,2.825,2.85,2.875,2.9,2.925,2.95,2.975,3],"grid":true,"gridColor":{"condition":{"test":"abs(datum.value*8 - round(datum.value*8)) < 0.01","value":"#5bdc5b"},"value":"#c8f1c8"},"tickOpacity":{"condition":{"test":"abs(datum.value*4 - round(datum.value*4)) < 0.01 && datum.value < 2.99","value":1},"value":0},"labelExpr":"abs(datum.value*4 - round(datum.value*4)) < 0.01 && datum.value < 2.99 ? (datum.value == 2 ? '2.0' : format(datum.value,'.2~f')) : ''","title":null}},
      "y":{"field":"t","type":"quantitative","axis":{"orient":"left","tickCount":88,"grid":true,"gridColor":{"condition":{"test":"datum.value % 20 == 0","value":"#5bdc5b"},"value":"#c8f1c8"},"ticks":false,"labels":false,"domain":false,"title":null}},
      "order":{"field":"t","type":"quantitative"},
      "color":{"field":"log","type":"nominal"}}},
    {"data":{"name":"fb"},"transform":[{"filter":"datum.w=='B'"}],"mark":{"type":"rect","filled":false,"strokeWidth":2},
     "encoding":{"y":{"field":"top","type":"quantitative","axis":null},"y2":{"field":"base"},"stroke":{"field":"fm","type":"nominal","scale":{"domain":["Montara","Plover","Nome"],"range":["#e246d6","#f6c131","#2547d9"]},"legend":null}}}
   ]},
   {"width":98.8,"height":264,"resolve":{"axis":{"x":"independent","y":"independent"}},"layer":[
    {"data":{"name":"den"},"transform":[{"filter":"datum.w=='C' && datum.log=='Actual'"}],"mark":{"type":"line","interpolate":"step-before","strokeWidth":1},
     "encoding":{"x":{"field":"v","type":"quantitative","scale":{"domain":[2,3],"nice":false,"zero":false},"axis":{"orient":"top","grid":false,"ticks":false,"labels":false,"domainColor":"#7f7f7f","title":null}},
      "y":{"field":"t","type":"quantitative","scale":{"domain":[2106,2549],"reverse":true,"nice":false,"zero":false},"axis":null},
      "order":{"field":"t","type":"quantitative"},
      "color":{"field":"log","type":"nominal","scale":{"domain":["Actual","Model"],"range":["#2b2b2b","#ff1f1f"]}}}},
    {"data":{"name":"den"},"transform":[{"filter":"datum.w=='C' && datum.log=='Model'"}],"mark":{"type":"line","strokeWidth":1.3},
     "encoding":{"x":{"field":"v","type":"quantitative","axis":{"orient":"bottom","values":[2,2.025,2.05,2.075,2.1,2.125,2.15,2.175,2.2,2.225,2.25,2.275,2.3,2.325,2.35,2.375,2.4,2.425,2.45,2.475,2.5,2.525,2.55,2.575,2.6,2.625,2.65,2.675,2.7,2.725,2.75,2.775,2.8,2.825,2.85,2.875,2.9,2.925,2.95,2.975,3],"grid":true,"gridColor":{"condition":{"test":"abs(datum.value*8 - round(datum.value*8)) < 0.01","value":"#5bdc5b"},"value":"#c8f1c8"},"tickOpacity":{"condition":{"test":"abs(datum.value*4 - round(datum.value*4)) < 0.01 && datum.value < 2.99","value":1},"value":0},"labelExpr":"abs(datum.value*4 - round(datum.value*4)) < 0.01 && datum.value < 2.99 ? (datum.value == 2 ? '2.0' : format(datum.value,'.2~f')) : ''","title":"Density Log (g/cc)","titleX":40}},
      "y":{"field":"t","type":"quantitative","axis":{"orient":"left","tickCount":88,"grid":true,"gridColor":{"condition":{"test":"datum.value % 20 == 0","value":"#5bdc5b"},"value":"#c8f1c8"},"ticks":false,"labels":false,"domain":false,"title":null}},
      "order":{"field":"t","type":"quantitative"},
      "color":{"field":"log","type":"nominal"}}},
    {"data":{"name":"fb"},"transform":[{"filter":"datum.w=='C'"}],"mark":{"type":"rect","filled":false,"strokeWidth":2},
     "encoding":{"y":{"field":"top","type":"quantitative","axis":null},"y2":{"field":"base"},"stroke":{"field":"fm","type":"nominal","scale":{"domain":["Montara","Plover","Nome"],"range":["#e246d6","#f6c131","#2547d9"]},"legend":null}}}
   ]},
   {"width":98.8,"height":264,"resolve":{"axis":{"x":"independent","y":"independent"}},"layer":[
    {"data":{"name":"den"},"transform":[{"filter":"datum.w=='D' && datum.log=='Actual'"}],"mark":{"type":"line","interpolate":"step-before","strokeWidth":1},
     "encoding":{"x":{"field":"v","type":"quantitative","scale":{"domain":[2,3],"nice":false,"zero":false},"axis":{"orient":"top","grid":false,"ticks":false,"labels":false,"domainColor":"#7f7f7f","title":null}},
      "y":{"field":"t","type":"quantitative","scale":{"domain":[2106,2549],"reverse":true,"nice":false,"zero":false},"axis":null},
      "order":{"field":"t","type":"quantitative"},
      "color":{"field":"log","type":"nominal","scale":{"domain":["Actual","Model"],"range":["#2b2b2b","#ff1f1f"]}}}},
    {"data":{"name":"den"},"transform":[{"filter":"datum.w=='D' && datum.log=='Model'"}],"mark":{"type":"line","strokeWidth":1.3},
     "encoding":{"x":{"field":"v","type":"quantitative","axis":{"orient":"bottom","values":[2,2.025,2.05,2.075,2.1,2.125,2.15,2.175,2.2,2.225,2.25,2.275,2.3,2.325,2.35,2.375,2.4,2.425,2.45,2.475,2.5,2.525,2.55,2.575,2.6,2.625,2.65,2.675,2.7,2.725,2.75,2.775,2.8,2.825,2.85,2.875,2.9,2.925,2.95,2.975,3],"grid":true,"gridColor":{"condition":{"test":"abs(datum.value*8 - round(datum.value*8)) < 0.01","value":"#5bdc5b"},"value":"#c8f1c8"},"tickOpacity":{"condition":{"test":"abs(datum.value*4 - round(datum.value*4)) < 0.01 && datum.value < 2.99","value":1},"value":0},"labelExpr":"abs(datum.value*4 - round(datum.value*4)) < 0.01 && datum.value < 2.99 ? (datum.value == 2 ? '2.0' : format(datum.value,'.2~f')) : ''","title":null}},
      "y":{"field":"t","type":"quantitative","axis":{"orient":"left","tickCount":88,"grid":true,"gridColor":{"condition":{"test":"datum.value % 20 == 0","value":"#5bdc5b"},"value":"#c8f1c8"},"ticks":false,"labels":false,"domain":false,"title":null}},
      "order":{"field":"t","type":"quantitative"},
      "color":{"field":"log","type":"nominal"}}},
    {"data":{"name":"fb"},"transform":[{"filter":"datum.w=='D'"}],"mark":{"type":"rect","filled":false,"strokeWidth":2},
     "encoding":{"y":{"field":"top","type":"quantitative","axis":null},"y2":{"field":"base"},"stroke":{"field":"fm","type":"nominal","scale":{"domain":["Montara","Plover","Nome"],"range":["#e246d6","#f6c131","#2547d9"]},"legend":null}}}
   ]},
   {"width":98.8,"height":264,"resolve":{"axis":{"x":"independent","y":"independent"}},"layer":[
    {"data":{"name":"den"},"transform":[{"filter":"datum.w=='E' && datum.log=='Actual'"}],"mark":{"type":"line","interpolate":"step-before","strokeWidth":1},
     "encoding":{"x":{"field":"v","type":"quantitative","scale":{"domain":[2,3],"nice":false,"zero":false},"axis":{"orient":"top","grid":false,"ticks":false,"labels":false,"domainColor":"#7f7f7f","title":null}},
      "y":{"field":"t","type":"quantitative","scale":{"domain":[2106,2549],"reverse":true,"nice":false,"zero":false},"axis":{"orient":"right","grid":false,"ticks":false,"labels":false,"domainColor":"#7f7f7f","title":null}},
      "order":{"field":"t","type":"quantitative"},
      "color":{"field":"log","type":"nominal","scale":{"domain":["Actual","Model"],"range":["#2b2b2b","#ff1f1f"]}}}},
    {"data":{"name":"den"},"transform":[{"filter":"datum.w=='E' && datum.log=='Model'"}],"mark":{"type":"line","strokeWidth":1.3},
     "encoding":{"x":{"field":"v","type":"quantitative","axis":{"orient":"bottom","values":[2,2.025,2.05,2.075,2.1,2.125,2.15,2.175,2.2,2.225,2.25,2.275,2.3,2.325,2.35,2.375,2.4,2.425,2.45,2.475,2.5,2.525,2.55,2.575,2.6,2.625,2.65,2.675,2.7,2.725,2.75,2.775,2.8,2.825,2.85,2.875,2.9,2.925,2.95,2.975,3],"grid":true,"gridColor":{"condition":{"test":"abs(datum.value*8 - round(datum.value*8)) < 0.01","value":"#5bdc5b"},"value":"#c8f1c8"},"tickOpacity":{"condition":{"test":"abs(datum.value*4 - round(datum.value*4)) < 0.01 && datum.value < 2.99","value":1},"value":0},"labelExpr":"abs(datum.value*4 - round(datum.value*4)) < 0.01 && datum.value < 2.99 ? (datum.value == 2 ? '2.0' : format(datum.value,'.2~f')) : ''","title":null}},
      "y":{"field":"t","type":"quantitative","axis":{"orient":"left","tickCount":88,"grid":true,"gridColor":{"condition":{"test":"datum.value % 20 == 0","value":"#5bdc5b"},"value":"#c8f1c8"},"ticks":false,"labels":false,"domain":false,"title":null}},
      "order":{"field":"t","type":"quantitative"},
      "color":{"field":"log","type":"nominal"}}},
    {"data":{"name":"fb"},"transform":[{"filter":"datum.w=='E'"}],"mark":{"type":"rect","filled":false,"strokeWidth":2},
     "encoding":{"y":{"field":"top","type":"quantitative","axis":null},"y2":{"field":"base"},"stroke":{"field":"fm","type":"nominal","scale":{"domain":["Montara","Plover","Nome"],"range":["#e246d6","#f6c131","#2547d9"]},"legend":{"orient":"bottom-right","offset":4,"title":null,"strokeColor":"#444","fillColor":"white","padding":4,"rowPadding":2,"symbolType":"M-1,-1H8.4V1H-1Z","symbolSize":121,"symbolStrokeWidth":2,"symbolFillColor":"transparent","labelAlign":"left","labelOffset":-7,"labelFontSize":12}}}}
   ]}
  ]}
 ]}
]
}
